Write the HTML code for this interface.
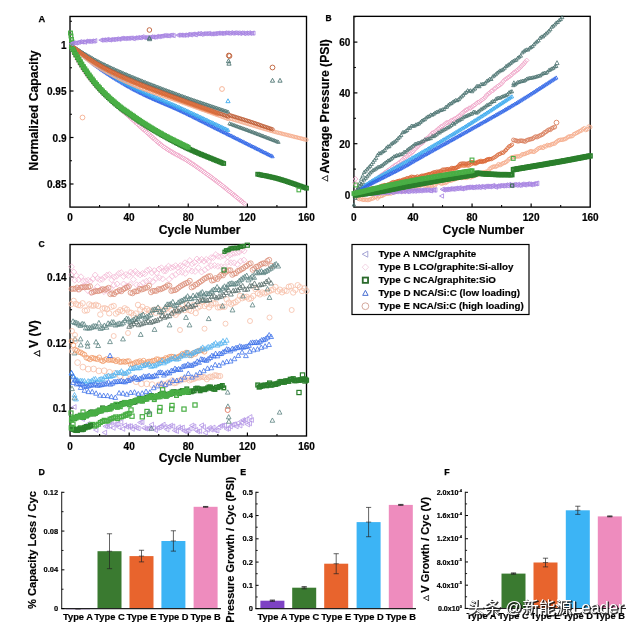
<!DOCTYPE html><html><head><meta charset="utf-8"><title>Figure</title><style>html,body{margin:0;padding:0;background:#fff}body{width:640px;height:632px;overflow:hidden}</style></head><body><svg width="640" height="632" viewBox="0 0 640 632" font-family="'Liberation Sans','Noto Sans CJK SC',sans-serif" style="display:block;will-change:transform"><defs><marker id="m0" markerUnits="userSpaceOnUse" markerWidth="7.1499999999999995" markerHeight="7.1499999999999995" refX="3.5749999999999997" refY="3.5749999999999997" fill="none" stroke="#f0a6c9" stroke-width="0.85"><path d="M3.5749999999999997,1.10 L6.05,3.5749999999999997 L3.5749999999999997,6.05 L1.10,3.5749999999999997Z"/></marker><marker id="m1" markerUnits="userSpaceOnUse" markerWidth="6.25" markerHeight="6.25" refX="3.125" refY="3.125" fill="none" stroke="#2d63e6" stroke-width="0.85"><path d="M3.125,1.34 L4.83,4.49 L1.43,4.49Z"/></marker><marker id="m2" markerUnits="userSpaceOnUse" markerWidth="6.25" markerHeight="6.25" refX="3.125" refY="3.125" fill="none" stroke="#3aa9ee" stroke-width="0.85"><path d="M3.125,1.34 L4.83,4.49 L1.43,4.49Z"/></marker><marker id="m3" markerUnits="userSpaceOnUse" markerWidth="6.25" markerHeight="6.25" refX="3.125" refY="3.125" fill="none" stroke="#f5ae8e" stroke-width="0.85"><circle cx="3.125" cy="3.125" r="1.7"/></marker><marker id="m4" markerUnits="userSpaceOnUse" markerWidth="6.25" markerHeight="6.25" refX="3.125" refY="3.125" fill="none" stroke="#4e7573" stroke-width="0.85"><path d="M3.125,1.34 L4.83,4.49 L1.43,4.49Z"/></marker><marker id="m5" markerUnits="userSpaceOnUse" markerWidth="6.25" markerHeight="6.25" refX="3.125" refY="3.125" fill="none" stroke="#bd5d36" stroke-width="0.85"><circle cx="3.125" cy="3.125" r="1.7"/></marker><marker id="m6" markerUnits="userSpaceOnUse" markerWidth="6.25" markerHeight="6.25" refX="3.125" refY="3.125" fill="none" stroke="#de6f3c" stroke-width="0.85"><circle cx="3.125" cy="3.125" r="1.7"/></marker><marker id="m7" markerUnits="userSpaceOnUse" markerWidth="6.8" markerHeight="6.8" refX="3.4" refY="3.4" fill="none" stroke="#2b7f2c" stroke-width="1.5"><rect x="1.75" y="1.75" width="3.3" height="3.3"/></marker><marker id="m8" markerUnits="userSpaceOnUse" markerWidth="6.8" markerHeight="6.8" refX="3.4" refY="3.4" fill="none" stroke="#49ae45" stroke-width="1.5"><rect x="1.75" y="1.75" width="3.3" height="3.3"/></marker><marker id="m9" markerUnits="userSpaceOnUse" markerWidth="6.9" markerHeight="6.9" refX="3.45" refY="3.45" fill="none" stroke="#49ae45" stroke-width="1.3"><rect x="1.65" y="1.65" width="3.6" height="3.6"/></marker><marker id="m10" markerUnits="userSpaceOnUse" markerWidth="7.05" markerHeight="7.05" refX="3.525" refY="3.525" fill="none" stroke="#a783e2" stroke-width="0.85"><path d="M1.32,3.525 L5.21,1.42 L5.21,5.62Z"/></marker><marker id="m11" markerUnits="userSpaceOnUse" markerWidth="7.5" markerHeight="7.5" refX="3.75" refY="3.75" fill="none" stroke="#bd5d36" stroke-width="0.9"><circle cx="3.75" cy="3.75" r="2.3"/></marker><marker id="m12" markerUnits="userSpaceOnUse" markerWidth="7.1000000000000005" markerHeight="7.1000000000000005" refX="3.5500000000000003" refY="3.5500000000000003" fill="none" stroke="#4e7573" stroke-width="0.9"><path d="M3.5500000000000003,1.35 L5.65,5.23 L1.45,5.23Z"/></marker><marker id="m13" markerUnits="userSpaceOnUse" markerWidth="7.7" markerHeight="7.7" refX="3.85" refY="3.85" fill="none" stroke="#bd5d36" stroke-width="0.9"><circle cx="3.85" cy="3.85" r="2.4"/></marker><marker id="m14" markerUnits="userSpaceOnUse" markerWidth="7.7" markerHeight="7.7" refX="3.85" refY="3.85" fill="none" stroke="#f5ae8e" stroke-width="0.9"><circle cx="3.85" cy="3.85" r="2.4"/></marker><marker id="m15" markerUnits="userSpaceOnUse" markerWidth="7.1000000000000005" markerHeight="7.1000000000000005" refX="3.5500000000000003" refY="3.5500000000000003" fill="none" stroke="#3aa9ee" stroke-width="0.9"><path d="M3.5500000000000003,1.35 L5.65,5.23 L1.45,5.23Z"/></marker><marker id="m16" markerUnits="userSpaceOnUse" markerWidth="6.7" markerHeight="6.7" refX="3.35" refY="3.35" fill="none" stroke="#49ae45" stroke-width="1.1"><rect x="1.55" y="1.55" width="3.6" height="3.6"/></marker><marker id="m17" markerUnits="userSpaceOnUse" markerWidth="6.85" markerHeight="6.85" refX="3.425" refY="3.425" fill="none" stroke="#f0a6c9" stroke-width="0.85"><path d="M3.425,1.12 L5.72,3.425 L3.425,5.72 L1.12,3.425Z"/></marker><marker id="m18" markerUnits="userSpaceOnUse" markerWidth="6.45" markerHeight="6.45" refX="3.225" refY="3.225" fill="none" stroke="#f5ae8e" stroke-width="0.85"><circle cx="3.225" cy="3.225" r="1.8"/></marker><marker id="m19" markerUnits="userSpaceOnUse" markerWidth="7.449999999999999" markerHeight="7.449999999999999" refX="3.7249999999999996" refY="3.7249999999999996" fill="none" stroke="#a783e2" stroke-width="0.85"><path d="M1.31,3.7249999999999996 L5.56,1.42 L5.56,6.02Z"/></marker><marker id="m20" markerUnits="userSpaceOnUse" markerWidth="6.25" markerHeight="6.25" refX="3.125" refY="3.125" fill="none" stroke="#ee7e45" stroke-width="0.85"><circle cx="3.125" cy="3.125" r="1.7"/></marker><marker id="m21" markerUnits="userSpaceOnUse" markerWidth="6.25" markerHeight="6.25" refX="3.125" refY="3.125" fill="none" stroke="#d96a3c" stroke-width="0.85"><circle cx="3.125" cy="3.125" r="1.7"/></marker><marker id="m22" markerUnits="userSpaceOnUse" markerWidth="6.6499999999999995" markerHeight="6.6499999999999995" refX="3.3249999999999997" refY="3.3249999999999997" fill="none" stroke="#d9805f" stroke-width="0.85"><circle cx="3.3249999999999997" cy="3.3249999999999997" r="1.9"/></marker><marker id="m23" markerUnits="userSpaceOnUse" markerWidth="7.7" markerHeight="7.7" refX="3.85" refY="3.85" fill="none" stroke="#d9805f" stroke-width="0.9"><circle cx="3.85" cy="3.85" r="2.4"/></marker><marker id="m24" markerUnits="userSpaceOnUse" markerWidth="7.0" markerHeight="7.0" refX="3.5" refY="3.5" fill="none" stroke="#4e7573" stroke-width="0.8"><path d="M3.5,1.29 L5.60,5.18 L1.40,5.18Z"/></marker><marker id="m25" markerUnits="userSpaceOnUse" markerWidth="7.300000000000001" markerHeight="7.300000000000001" refX="3.6500000000000004" refY="3.6500000000000004" fill="none" stroke="#2b7f2c" stroke-width="1.6"><rect x="1.80" y="1.80" width="3.7" height="3.7"/></marker><marker id="m26" markerUnits="userSpaceOnUse" markerWidth="6.9" markerHeight="6.9" refX="3.45" refY="3.45" fill="none" stroke="#49ae45" stroke-width="1.1"><rect x="1.55" y="1.55" width="3.8" height="3.8"/></marker><marker id="m27" markerUnits="userSpaceOnUse" markerWidth="6.300000000000001" markerHeight="6.300000000000001" refX="3.1500000000000004" refY="3.1500000000000004" fill="none" stroke="#3f6f55" stroke-width="1.1"><rect x="1.55" y="1.55" width="3.2" height="3.2"/></marker><marker id="m28" markerUnits="userSpaceOnUse" markerWidth="7.2" markerHeight="7.2" refX="3.6" refY="3.6" fill="none" stroke="#a783e2" stroke-width="0.8"><path d="M1.29,3.6 L5.36,1.40 L5.36,5.80Z"/></marker><marker id="m29" markerUnits="userSpaceOnUse" markerWidth="7.0" markerHeight="7.0" refX="3.5" refY="3.5" fill="none" stroke="#f0a6c9" stroke-width="0.8"><path d="M3.5,1.08 L5.92,3.5 L3.5,5.92 L1.08,3.5Z"/></marker><marker id="m30" markerUnits="userSpaceOnUse" markerWidth="8.0" markerHeight="8.0" refX="4.0" refY="4.0" fill="none" stroke="#f4bad6" stroke-width="0.8"><path d="M4.0,1.01 L6.99,4.0 L4.0,6.99 L1.01,4.0Z"/></marker><marker id="m31" markerUnits="userSpaceOnUse" markerWidth="7.8" markerHeight="7.8" refX="3.9" refY="3.9" fill="none" stroke="#dc8f7a" stroke-width="0.8"><circle cx="3.9" cy="3.9" r="2.5"/></marker><marker id="m32" markerUnits="userSpaceOnUse" markerWidth="8.2" markerHeight="8.2" refX="4.1" refY="4.1" fill="none" stroke="#f6bfa8" stroke-width="0.8"><circle cx="4.1" cy="4.1" r="2.7"/></marker><marker id="m33" markerUnits="userSpaceOnUse" markerWidth="7.8" markerHeight="7.8" refX="3.9" refY="3.9" fill="none" stroke="#5a8280" stroke-width="0.8"><path d="M3.9,1.27 L6.40,5.90 L1.40,5.90Z"/></marker><marker id="m34" markerUnits="userSpaceOnUse" markerWidth="7.6" markerHeight="7.6" refX="3.8" refY="3.8" fill="none" stroke="#566b68" stroke-width="0.8"><path d="M3.8,1.28 L6.20,5.72 L1.40,5.72Z"/></marker><marker id="m35" markerUnits="userSpaceOnUse" markerWidth="7.6" markerHeight="7.6" refX="3.8" refY="3.8" fill="none" stroke="#5a8280" stroke-width="0.8"><path d="M3.8,1.28 L6.20,5.72 L1.40,5.72Z"/></marker><marker id="m36" markerUnits="userSpaceOnUse" markerWidth="7.8" markerHeight="7.8" refX="3.9" refY="3.9" fill="none" stroke="#f6bfa8" stroke-width="0.8"><circle cx="3.9" cy="3.9" r="2.5"/></marker><marker id="m37" markerUnits="userSpaceOnUse" markerWidth="7.55" markerHeight="7.55" refX="3.775" refY="3.775" fill="none" stroke="#f09866" stroke-width="0.75"><circle cx="3.775" cy="3.775" r="2.4"/></marker><marker id="m38" markerUnits="userSpaceOnUse" markerWidth="8.6" markerHeight="8.6" refX="4.3" refY="4.3" fill="none" stroke="#f6bfa8" stroke-width="0.8"><circle cx="4.3" cy="4.3" r="2.9"/></marker><marker id="m39" markerUnits="userSpaceOnUse" markerWidth="8.0" markerHeight="8.0" refX="4.0" refY="4.0" fill="none" stroke="#f6bfa8" stroke-width="0.8"><circle cx="4.0" cy="4.0" r="2.6"/></marker><marker id="m40" markerUnits="userSpaceOnUse" markerWidth="7.6" markerHeight="7.6" refX="3.8" refY="3.8" fill="none" stroke="#55b4f0" stroke-width="0.8"><path d="M3.8,1.28 L6.20,5.72 L1.40,5.72Z"/></marker><marker id="m41" markerUnits="userSpaceOnUse" markerWidth="7.6" markerHeight="7.6" refX="3.8" refY="3.8" fill="none" stroke="#3f72ea" stroke-width="0.8"><path d="M3.8,1.28 L6.20,5.72 L1.40,5.72Z"/></marker><marker id="m42" markerUnits="userSpaceOnUse" markerWidth="7.7" markerHeight="7.7" refX="3.85" refY="3.85" fill="none" stroke="#3f72ea" stroke-width="0.9"><path d="M3.85,1.33 L6.25,5.77 L1.45,5.77Z"/></marker><marker id="m43" markerUnits="userSpaceOnUse" markerWidth="7.6" markerHeight="7.6" refX="3.8" refY="3.8" fill="none" stroke="#b496e6" stroke-width="0.8"><path d="M1.28,3.8 L5.72,1.40 L5.72,6.20Z"/></marker><marker id="m44" markerUnits="userSpaceOnUse" markerWidth="7.0" markerHeight="7.0" refX="3.5" refY="3.5" fill="none" stroke="#2b7f2c" stroke-width="1.4"><rect x="1.70" y="1.70" width="3.6" height="3.6"/></marker><marker id="m45" markerUnits="userSpaceOnUse" markerWidth="7.199999999999999" markerHeight="7.199999999999999" refX="3.5999999999999996" refY="3.5999999999999996" fill="none" stroke="#2b7f2c" stroke-width="1.4"><rect x="1.70" y="1.70" width="3.8" height="3.8"/></marker><marker id="m46" markerUnits="userSpaceOnUse" markerWidth="7.0" markerHeight="7.0" refX="3.5" refY="3.5" fill="none" stroke="#49ae45" stroke-width="1.4"><rect x="1.70" y="1.70" width="3.6" height="3.6"/></marker><marker id="m47" markerUnits="userSpaceOnUse" markerWidth="7.1" markerHeight="7.1" refX="3.55" refY="3.55" fill="none" stroke="#49ae45" stroke-width="1.3"><rect x="1.65" y="1.65" width="3.8" height="3.8"/></marker><marker id="m48" markerUnits="userSpaceOnUse" markerWidth="7.1" markerHeight="7.1" refX="3.55" refY="3.55" fill="none" stroke="#2b7f2c" stroke-width="1.3"><rect x="1.65" y="1.65" width="3.8" height="3.8"/></marker><marker id="m49" markerUnits="userSpaceOnUse" markerWidth="7.4" markerHeight="7.4" refX="3.7" refY="3.7" fill="none" stroke="#49ae45" stroke-width="1.2"><rect x="1.60" y="1.60" width="4.2" height="4.2"/></marker><marker id="m50" markerUnits="userSpaceOnUse" markerWidth="7.4" markerHeight="7.4" refX="3.7" refY="3.7" fill="none" stroke="#2b7f2c" stroke-width="1.2"><rect x="1.60" y="1.60" width="4.2" height="4.2"/></marker><marker id="m51" markerUnits="userSpaceOnUse" markerWidth="6.3" markerHeight="6.3" refX="3.15" refY="3.15" fill="none" stroke="#2b7f2c" stroke-width="1.3"><rect x="1.65" y="1.65" width="3.0" height="3.0"/></marker><marker id="m52" markerUnits="userSpaceOnUse" markerWidth="7.2" markerHeight="7.2" refX="3.6" refY="3.6" fill="none" stroke="#2b7f2c" stroke-width="1.2"><rect x="1.60" y="1.60" width="4.0" height="4.0"/></marker><marker id="m53" markerUnits="userSpaceOnUse" markerWidth="7.2" markerHeight="7.2" refX="3.6" refY="3.6" fill="none" stroke="#49ae45" stroke-width="1.2"><rect x="1.60" y="1.60" width="4.0" height="4.0"/></marker><marker id="m54" markerUnits="userSpaceOnUse" markerWidth="7.3999999999999995" markerHeight="7.3999999999999995" refX="3.6999999999999997" refY="3.6999999999999997" fill="none" stroke="#5a8280" stroke-width="0.8"><path d="M3.6999999999999997,1.28 L6.00,5.54 L1.40,5.54Z"/></marker><marker id="m55" markerUnits="userSpaceOnUse" markerWidth="7.8" markerHeight="7.8" refX="3.9" refY="3.9" fill="none" stroke="#e06a50" stroke-width="0.8"><circle cx="3.9" cy="3.9" r="2.5"/></marker><marker id="m56" markerUnits="userSpaceOnUse" markerWidth="8.9" markerHeight="8.9" refX="4.45" refY="4.45" fill="none" stroke="#9c9cd0" stroke-width="0.9"><path d="M1.30,4.45 L6.85,1.45 L6.85,7.45Z"/></marker><marker id="m57" markerUnits="userSpaceOnUse" markerWidth="8.5" markerHeight="8.5" refX="4.25" refY="4.25" fill="none" stroke="#f1cfe0" stroke-width="0.9"><path d="M4.25,1.03 L7.47,4.25 L4.25,7.47 L1.03,4.25Z"/></marker><marker id="m58" markerUnits="userSpaceOnUse" markerWidth="9.1" markerHeight="9.1" refX="4.55" refY="4.55" fill="none" stroke="#2a6a2b" stroke-width="1.8"><rect x="1.90" y="1.90" width="5.3" height="5.3"/></marker><marker id="m59" markerUnits="userSpaceOnUse" markerWidth="8.4" markerHeight="8.4" refX="4.2" refY="4.2" fill="none" stroke="#4a70d2" stroke-width="1.0"><path d="M4.2,1.36 L6.90,6.36 L1.50,6.36Z"/></marker><marker id="m60" markerUnits="userSpaceOnUse" markerWidth="9.7" markerHeight="9.7" refX="4.85" refY="4.85" fill="none" stroke="#cf9f92" stroke-width="0.9"><circle cx="4.85" cy="4.85" r="3.4"/></marker></defs><rect width="640" height="632" fill="#fff"/><g><rect x="70.0" y="16.45" width="236.5" height="190.65" fill="none" stroke="#000" stroke-width="1.35"/>
<line x1="129.12" y1="207.10" x2="129.12" y2="203.60" stroke="#000" stroke-width="1.2"/>
<line x1="188.24" y1="207.10" x2="188.24" y2="203.60" stroke="#000" stroke-width="1.2"/>
<line x1="247.36" y1="207.10" x2="247.36" y2="203.60" stroke="#000" stroke-width="1.2"/>
<line x1="99.56" y1="207.10" x2="99.56" y2="205.10" stroke="#000" stroke-width="1.1"/>
<line x1="158.68" y1="207.10" x2="158.68" y2="205.10" stroke="#000" stroke-width="1.1"/>
<line x1="217.80" y1="207.10" x2="217.80" y2="205.10" stroke="#000" stroke-width="1.1"/>
<line x1="276.92" y1="207.10" x2="276.92" y2="205.10" stroke="#000" stroke-width="1.1"/>
<line x1="70.00" y1="44.50" x2="73.50" y2="44.50" stroke="#000" stroke-width="1.2"/>
<line x1="70.00" y1="91.00" x2="73.50" y2="91.00" stroke="#000" stroke-width="1.2"/>
<line x1="70.00" y1="137.50" x2="73.50" y2="137.50" stroke="#000" stroke-width="1.2"/>
<line x1="70.00" y1="184.00" x2="73.50" y2="184.00" stroke="#000" stroke-width="1.2"/>
<line x1="70.00" y1="21.25" x2="72.00" y2="21.25" stroke="#000" stroke-width="1.1"/>
<line x1="70.00" y1="67.75" x2="72.00" y2="67.75" stroke="#000" stroke-width="1.1"/>
<line x1="70.00" y1="114.25" x2="72.00" y2="114.25" stroke="#000" stroke-width="1.1"/>
<line x1="70.00" y1="160.75" x2="72.00" y2="160.75" stroke="#000" stroke-width="1.1"/>
<text x="70.0" y="221.4" font-size="10" font-weight="bold" text-anchor="middle" fill="#000" stroke="#000" stroke-width="0.18">0</text>
<text x="129.12" y="221.4" font-size="10" font-weight="bold" text-anchor="middle" fill="#000" stroke="#000" stroke-width="0.18">40</text>
<text x="188.24" y="221.4" font-size="10" font-weight="bold" text-anchor="middle" fill="#000" stroke="#000" stroke-width="0.18">80</text>
<text x="247.35999999999999" y="221.4" font-size="10" font-weight="bold" text-anchor="middle" fill="#000" stroke="#000" stroke-width="0.18">120</text>
<text x="306.48" y="221.4" font-size="10" font-weight="bold" text-anchor="middle" fill="#000" stroke="#000" stroke-width="0.18">160</text>
<text x="66.5" y="48.7" font-size="10" font-weight="bold" text-anchor="end" fill="#000" stroke="#000" stroke-width="0.18">1</text>
<text x="66.5" y="95.20000000000005" font-size="10" font-weight="bold" text-anchor="end" fill="#000" stroke="#000" stroke-width="0.18">0.95</text>
<text x="66.5" y="141.7" font-size="10" font-weight="bold" text-anchor="end" fill="#000" stroke="#000" stroke-width="0.18">0.9</text>
<text x="66.5" y="188.20000000000002" font-size="10" font-weight="bold" text-anchor="end" fill="#000" stroke="#000" stroke-width="0.18">0.85</text>
<text x="199.65" y="233.5" font-size="12.15" font-weight="bold" text-anchor="middle" fill="#000" stroke="#000" stroke-width="0.18">Cycle Number</text>
<text x="38.2" y="170.4" font-size="12.2" font-weight="bold" text-anchor="start" fill="#000" transform="rotate(-90 38.2 170.4)" stroke="#000" stroke-width="0.18">Normalized Capacity</text>
<text x="38.4" y="21.6" font-size="9.3" font-weight="bold" text-anchor="start" fill="#000" stroke="#000" stroke-width="0.25">A</text>
<polyline points="71.5,47.5 73.0,50.6 74.4,53.6 75.9,56.6 77.4,59.4 78.9,62.0 80.3,64.6 81.8,67.0 83.3,69.3 84.8,71.5 86.3,73.5 87.7,75.6 89.2,77.5 90.7,79.4 92.2,81.2 93.6,83.0 95.1,84.7 96.6,86.4 98.1,88.0 99.6,89.6 101.0,91.2 102.5,92.6 104.0,94.1 105.5,95.5 107.0,96.8 108.4,98.1 109.9,99.4 111.4,100.7 112.9,102.0 114.3,103.3 115.8,104.5 117.3,105.8 118.8,107.1 120.3,108.5 121.7,109.8 123.2,111.2 124.7,112.5 126.2,113.8 127.6,115.2 129.1,116.5 130.6,117.8 132.1,119.2 133.6,120.5 135.0,121.8 136.5,123.2 138.0,124.5 139.5,125.8 140.9,127.1 142.4,128.5 143.9,129.8 145.4,131.1 146.9,132.4 148.3,133.7 149.8,135.0 151.3,136.3 152.8,137.7 154.2,139.0 155.7,140.3 157.2,141.6 158.7,142.9 160.2,144.1 161.6,145.2 163.1,146.4 164.6,147.4 166.1,148.4 167.5,149.4 169.0,150.3 170.5,151.2 172.0,152.0 173.5,152.9 174.9,153.7 176.4,154.5 177.9,155.3 179.4,156.1 180.8,156.9 182.3,157.7 183.8,158.5 185.3,159.4 186.8,160.3 188.2,161.2 189.7,162.2 191.2,163.2 192.7,164.1 194.2,165.1 195.6,166.1 197.1,167.1 198.6,168.2 200.1,169.2 201.5,170.2 203.0,171.3 204.5,172.3 206.0,173.4 207.5,174.5 208.9,175.5 210.4,176.6 211.9,177.7 213.4,178.8 214.8,179.9 216.3,181.0 217.8,182.1 219.3,183.3 220.8,184.4 222.2,185.6 223.7,186.7 225.2,187.9 226.7,189.1 228.1,190.3 229.6,191.5 231.1,192.7 232.6,193.9 234.1,195.1 235.5,196.3 237.0,197.5 238.5,198.7 240.0,199.9 241.4,201.1 242.9,202.3 244.4,203.5" fill="none" stroke="none" marker-start="url(#m0)" marker-mid="url(#m0)" marker-end="url(#m0)"/>
<polyline points="71.5,45.7 73.0,46.9 74.4,48.1 75.9,49.4 77.4,50.6 78.9,51.8 80.3,53.0 81.8,54.2 83.3,55.4 84.8,56.6 86.3,57.8 87.7,59.0 89.2,60.2 90.7,61.4 92.2,62.6 93.6,63.8 95.1,64.9 96.6,66.0 98.1,67.1 99.6,68.2 101.0,69.3 102.5,70.3 104.0,71.3 105.5,72.3 107.0,73.3 108.4,74.2 109.9,75.2 111.4,76.2 112.9,77.1 114.3,78.0 115.8,78.9 117.3,79.9 118.8,80.7 120.3,81.6 121.7,82.5 123.2,83.4 124.7,84.3 126.2,85.1 127.6,86.0 129.1,86.8 130.6,87.6 132.1,88.5 133.6,89.3 135.0,90.0 136.5,90.8 138.0,91.5 139.5,92.3 140.9,93.0 142.4,93.7 143.9,94.5 145.4,95.2 146.9,95.9 148.3,96.6 149.8,97.2 151.3,97.9 152.8,98.6 154.2,99.2 155.7,99.9 157.2,100.5 158.7,101.1 160.2,101.8 161.6,102.4 163.1,103.0 164.6,103.7 166.1,104.3 167.5,104.9 169.0,105.5 170.5,106.2 172.0,106.8 173.5,107.5 174.9,108.1 176.4,108.8 177.9,109.4 179.4,110.1 180.8,110.8 182.3,111.5 183.8,112.2 185.3,112.9 186.8,113.6 188.2,114.3 189.7,115.1 191.2,115.8 192.7,116.5 194.2,117.3 195.6,118.0 197.1,118.7 198.6,119.5 200.1,120.2 201.5,121.0 203.0,121.7 204.5,122.4 206.0,123.2 207.5,123.9 208.9,124.7 210.4,125.4 211.9,126.2 213.4,126.9 214.8,127.7 216.3,128.4 217.8,129.1 219.3,129.9 220.8,130.6 222.2,131.3 223.7,132.1 225.2,132.8 226.7,133.5 228.1,134.3 229.6,135.0 231.1,135.7 232.6,136.5 234.1,137.2 235.5,138.0 237.0,138.7 238.5,139.4 240.0,140.2 241.4,140.9 242.9,141.6 244.4,142.4 245.9,143.1 247.4,143.9 248.8,144.6 250.3,145.3 251.8,146.1 253.3,146.8 254.8,147.5 256.2,148.3 257.7,149.0 259.2,149.7 260.7,150.5 262.1,151.2 263.6,152.0 265.1,152.7 266.6,153.4 268.1,154.2 269.5,154.9 271.0,155.6 272.5,156.4" fill="none" stroke="none" marker-start="url(#m1)" marker-mid="url(#m1)" marker-end="url(#m1)"/>
<polyline points="71.5,45.6 73.0,46.7 74.4,47.8 75.9,49.0 77.4,50.1 78.9,51.2 80.3,52.3 81.8,53.4 83.3,54.5 84.8,55.7 86.3,56.8 87.7,57.9 89.2,59.1 90.7,60.2 92.2,61.4 93.6,62.5 95.1,63.6 96.6,64.7 98.1,65.8 99.6,66.8 101.0,67.8 102.5,68.8 104.0,69.8 105.5,70.8 107.0,71.8 108.4,72.7 109.9,73.7 111.4,74.6 112.9,75.5 114.3,76.5 115.8,77.4 117.3,78.3 118.8,79.1 120.3,80.0 121.7,80.9 123.2,81.7 124.7,82.5 126.2,83.4 127.6,84.2 129.1,85.0 130.6,85.7 132.1,86.5 133.6,87.2 135.0,88.0 136.5,88.7 138.0,89.4 139.5,90.1 140.9,90.8 142.4,91.5 143.9,92.1 145.4,92.8 146.9,93.5 148.3,94.1 149.8,94.7 151.3,95.4 152.8,96.0 154.2,96.6 155.7,97.3 157.2,97.9 158.7,98.5 160.2,99.1 161.6,99.7 163.1,100.3 164.6,101.0 166.1,101.6 167.5,102.2 169.0,102.8 170.5,103.5 172.0,104.1 173.5,104.7 174.9,105.4 176.4,106.0 177.9,106.7 179.4,107.3 180.8,108.0 182.3,108.7 183.8,109.4 185.3,110.0 186.8,110.7 188.2,111.4 189.7,112.1 191.2,112.8 192.7,113.5 194.2,114.1 195.6,114.8 197.1,115.5 198.6,116.2 200.1,116.9 201.5,117.6 203.0,118.3 204.5,119.0 206.0,119.7 207.5,120.4 208.9,121.1 210.4,121.8 211.9,122.4 213.4,123.1 214.8,123.8 216.3,124.5 217.8,125.2 219.3,125.9 220.8,126.6 222.2,127.3 223.7,128.0 225.2,128.7 226.7,129.4 228.1,130.1" fill="none" stroke="none" marker-start="url(#m2)" marker-mid="url(#m2)" marker-end="url(#m2)"/>
<polyline points="71.5,45.8 73.0,47.1 74.4,48.5 75.9,49.8 77.4,51.2 78.9,52.5 80.3,53.8 81.8,55.1 83.3,56.3 84.8,57.5 86.3,58.7 87.7,59.8 89.2,60.9 90.7,61.9 92.2,63.0 93.6,64.0 95.1,65.0 96.6,65.9 98.1,66.8 99.6,67.8 101.0,68.6 102.5,69.5 104.0,70.4 105.5,71.2 107.0,72.1 108.4,72.9 109.9,73.7 111.4,74.5 112.9,75.3 114.3,76.0 115.8,76.8 117.3,77.5 118.8,78.3 120.3,79.0 121.7,79.7 123.2,80.4 124.7,81.1 126.2,81.8 127.6,82.4 129.1,83.1 130.6,83.7 132.1,84.4 133.6,85.0 135.0,85.6 136.5,86.2 138.0,86.8 139.5,87.4 140.9,87.9 142.4,88.5 143.9,89.1 145.4,89.6 146.9,90.1 148.3,90.7 149.8,91.2 151.3,91.7 152.8,92.2 154.2,92.8 155.7,93.3 157.2,93.8 158.7,94.3 160.2,94.8 161.6,95.3 163.1,95.8 164.6,96.3 166.1,96.8 167.5,97.3 169.0,97.8 170.5,98.3 172.0,98.8 173.5,99.3 174.9,99.8 176.4,100.3 177.9,100.8 179.4,101.4 180.8,101.9 182.3,102.4 183.8,103.0 185.3,103.5 186.8,104.0 188.2,104.6 189.7,105.1 191.2,105.6 192.7,106.2 194.2,106.7 195.6,107.2 197.1,107.8 198.6,108.3 200.1,108.8 201.5,109.4 203.0,109.9 204.5,110.4 206.0,110.9 207.5,111.5 208.9,112.0 210.4,112.5 211.9,113.1 213.4,113.6 214.8,114.1 216.3,114.7 217.8,115.2 219.3,115.7 220.8,116.2 222.2,116.8 223.7,117.3 225.2,117.8 226.7,118.4 228.1,118.9 229.6,118.4 231.1,118.9 232.6,119.3 234.1,119.8 235.5,120.2 237.0,120.7 238.5,121.1 240.0,121.5 241.4,122.0 242.9,122.4 244.4,122.9 245.9,123.3 247.4,123.8 248.8,124.2 250.3,124.7 251.8,125.1 253.3,125.6 254.8,126.0 256.2,126.5 257.7,126.9 259.2,127.4 260.7,127.8 262.1,128.2 263.6,128.7 265.1,129.1 266.6,129.5 268.1,129.9 269.5,130.3 271.0,130.8 272.5,131.2 274.0,131.6 275.4,132.0 276.9,132.4 278.4,132.8 279.9,133.1 281.4,133.5 282.8,133.9 284.3,134.3 285.8,134.6 287.3,135.0 288.7,135.4 290.2,135.7 291.7,136.1 293.2,136.5 294.7,136.9 296.1,137.2 297.6,137.6 299.1,138.0 300.6,138.3 302.0,138.7 303.5,139.1 305.0,139.5 306.5,139.8" fill="none" stroke="none" marker-start="url(#m3)" marker-mid="url(#m3)" marker-end="url(#m3)"/>
<polyline points="71.5,45.4 73.0,46.4 74.4,47.3 75.9,48.3 77.4,49.2 78.9,50.1 80.3,51.1 81.8,52.0 83.3,52.9 84.8,53.8 86.3,54.7 87.7,55.6 89.2,56.4 90.7,57.3 92.2,58.1 93.6,59.0 95.1,59.8 96.6,60.6 98.1,61.4 99.6,62.2 101.0,62.9 102.5,63.7 104.0,64.4 105.5,65.1 107.0,65.8 108.4,66.5 109.9,67.2 111.4,67.9 112.9,68.6 114.3,69.2 115.8,69.9 117.3,70.6 118.8,71.2 120.3,71.9 121.7,72.5 123.2,73.1 124.7,73.8 126.2,74.4 127.6,75.0 129.1,75.7 130.6,76.3 132.1,76.9 133.6,77.5 135.0,78.1 136.5,78.7 138.0,79.3 139.5,79.9 140.9,80.5 142.4,81.1 143.9,81.7 145.4,82.3 146.9,82.9 148.3,83.5 149.8,84.0 151.3,84.6 152.8,85.2 154.2,85.7 155.7,86.3 157.2,86.9 158.7,87.4 160.2,88.0 161.6,88.6 163.1,89.1 164.6,89.7 166.1,90.2 167.5,90.8 169.0,91.3 170.5,91.9 172.0,92.4 173.5,93.0 174.9,93.5 176.4,94.1 177.9,94.6 179.4,95.1 180.8,95.7 182.3,96.2 183.8,96.7 185.3,97.3 186.8,97.8 188.2,98.3 189.7,98.8 191.2,99.4 192.7,99.9 194.2,100.4 195.6,100.9 197.1,101.4 198.6,101.9 200.1,102.4 201.5,102.9 203.0,103.4 204.5,103.9 206.0,104.4 207.5,104.9 208.9,105.4 210.4,105.9 211.9,106.4 213.4,106.9 214.8,107.4 216.3,107.9 217.8,108.4 219.3,108.9 220.8,109.4 222.2,109.9 223.7,110.4 225.2,110.9 226.7,111.4 228.1,111.9 229.6,123.5 231.1,124.1 232.6,124.6 234.1,125.2 235.5,125.7 237.0,126.3 238.5,126.8 240.0,127.4 241.4,127.9 242.9,128.4 244.4,129.0 245.9,129.5 247.4,130.1 248.8,130.6 250.3,131.2 251.8,131.7 253.3,132.3 254.8,132.8 256.2,133.4 257.7,134.0 259.2,134.5 260.7,135.1 262.1,135.7 263.6,136.2 265.1,136.8 266.6,137.4 268.1,138.0 269.5,138.5 271.0,139.1 272.5,139.7 274.0,140.2 275.4,140.8 276.9,141.4 278.4,142.0" fill="none" stroke="none" marker-start="url(#m4)" marker-mid="url(#m4)" marker-end="url(#m4)"/>
<polyline points="71.5,45.6 73.0,46.8 74.4,47.9 75.9,49.1 77.4,50.2 78.9,51.3 80.3,52.4 81.8,53.5 83.3,54.6 84.8,55.7 86.3,56.7 87.7,57.7 89.2,58.7 90.7,59.6 92.2,60.6 93.6,61.5 95.1,62.4 96.6,63.3 98.1,64.1 99.6,65.0 101.0,65.8 102.5,66.6 104.0,67.4 105.5,68.2 107.0,68.9 108.4,69.7 109.9,70.4 111.4,71.2 112.9,71.9 114.3,72.6 115.8,73.3 117.3,74.0 118.8,74.7 120.3,75.4 121.7,76.1 123.2,76.7 124.7,77.4 126.2,78.1 127.6,78.7 129.1,79.4 130.6,80.0 132.1,80.7 133.6,81.3 135.0,81.9 136.5,82.5 138.0,83.1 139.5,83.7 140.9,84.3 142.4,84.9 143.9,85.5 145.4,86.1 146.9,86.7 148.3,87.2 149.8,87.8 151.3,88.4 152.8,88.9 154.2,89.5 155.7,90.1 157.2,90.6 158.7,91.2 160.2,91.7 161.6,92.3 163.1,92.8 164.6,93.4 166.1,93.9 167.5,94.5 169.0,95.0 170.5,95.6 172.0,96.1 173.5,96.7 174.9,97.2 176.4,97.7 177.9,98.3 179.4,98.9 180.8,99.4 182.3,100.0 183.8,100.5 185.3,101.1 186.8,101.6 188.2,102.1 189.7,102.7 191.2,103.2 192.7,103.8 194.2,104.3 195.6,104.9 197.1,105.4 198.6,105.9 200.1,106.5 201.5,107.0 203.0,107.5 204.5,108.1 206.0,108.6 207.5,109.1 208.9,109.7 210.4,110.2 211.9,110.7 213.4,111.2 214.8,111.8 216.3,112.3 217.8,112.8 219.3,113.4 220.8,113.9 222.2,114.4 223.7,115.0 225.2,115.5 226.7,116.0 228.1,116.6 229.6,115.2 231.1,115.6 232.6,116.1 234.1,116.6 235.5,117.0 237.0,117.5 238.5,117.9 240.0,118.4 241.4,118.9 242.9,119.3 244.4,119.8 245.9,120.3 247.4,120.8 248.8,121.2 250.3,121.7 251.8,122.2 253.3,122.7 254.8,123.2 256.2,123.7 257.7,124.2 259.2,124.7 260.7,125.3 262.1,125.8 263.6,126.3 265.1,126.8 266.6,127.3 268.1,127.8 269.5,128.3 271.0,128.8 272.5,129.3" fill="none" stroke="none" marker-start="url(#m5)" marker-mid="url(#m5)" marker-end="url(#m5)"/>
<polyline points="71.5,45.7 73.0,46.9 74.4,48.0 75.9,49.2 77.4,50.4 78.9,51.6 80.3,52.8 81.8,53.9 83.3,55.0 84.8,56.1 86.3,57.2 87.7,58.2 89.2,59.3 90.7,60.3 92.2,61.3 93.6,62.2 95.1,63.2 96.6,64.1 98.1,65.0 99.6,65.9 101.0,66.7 102.5,67.6 104.0,68.4 105.5,69.2 107.0,70.0 108.4,70.8 109.9,71.5 111.4,72.3 112.9,73.0 114.3,73.7 115.8,74.5 117.3,75.2 118.8,75.9 120.3,76.6 121.7,77.3 123.2,77.9 124.7,78.6 126.2,79.3 127.6,79.9 129.1,80.6 130.6,81.2 132.1,81.9 133.6,82.5 135.0,83.1 136.5,83.7 138.0,84.4 139.5,85.0 140.9,85.6 142.4,86.2 143.9,86.7 145.4,87.3 146.9,87.9 148.3,88.5 149.8,89.0 151.3,89.6 152.8,90.2 154.2,90.7 155.7,91.3 157.2,91.8 158.7,92.4 160.2,92.9 161.6,93.5 163.1,94.0 164.6,94.5 166.1,95.1 167.5,95.6 169.0,96.2 170.5,96.7 172.0,97.2 173.5,97.8 174.9,98.3 176.4,98.9 177.9,99.4 179.4,100.0 180.8,100.5 182.3,101.1 183.8,101.6 185.3,102.2 186.8,102.7 188.2,103.2 189.7,103.8 191.2,104.3 192.7,104.8 194.2,105.4 195.6,105.9 197.1,106.4 198.6,106.9 200.1,107.5 201.5,108.0 203.0,108.5 204.5,109.0 206.0,109.6 207.5,110.1 208.9,110.6 210.4,111.1 211.9,111.7 213.4,112.2 214.8,112.7 216.3,113.3 217.8,113.8" fill="none" stroke="none" marker-start="url(#m6)" marker-mid="url(#m6)" marker-end="url(#m6)"/>
<polyline points="71.5,47.1 73.0,49.8 74.4,52.4 75.9,55.0 77.4,57.5 78.9,60.0 80.3,62.5 81.8,65.0 83.3,67.4 84.8,69.6 86.3,71.7 87.7,73.8 89.2,75.9 90.7,77.9 92.2,79.8 93.6,81.7 95.1,83.5 96.6,85.3 98.1,87.0 99.6,88.7 101.0,90.3 102.5,91.8 104.0,93.4 105.5,94.8 107.0,96.2 108.4,97.6 109.9,99.0 111.4,100.3 112.9,101.6 114.3,102.9 115.8,104.1 117.3,105.4 118.8,106.6 120.3,107.8 121.7,108.9 123.2,110.0 124.7,111.0 126.2,112.0 127.6,113.0 129.1,114.1 130.6,115.1 132.1,116.1 133.6,117.2 135.0,118.2 136.5,119.2 138.0,120.3 139.5,121.3 140.9,122.2 142.4,123.2 143.9,124.1 145.4,125.1 146.9,126.0 148.3,126.9 149.8,127.8 151.3,128.7 152.8,129.6 154.2,130.5 155.7,131.3 157.2,132.2 158.7,133.1 160.2,133.9 161.6,134.8 163.1,135.6 164.6,136.4 166.1,137.2 167.5,138.0 169.0,138.9 170.5,139.7 172.0,140.5 173.5,141.2 174.9,142.0 176.4,142.8 177.9,143.6 179.4,144.3 180.8,145.1 182.3,145.8 183.8,146.5 185.3,147.3 186.8,148.0 188.2,148.7 189.7,149.3 191.2,150.0 192.7,150.7 194.2,151.3 195.6,152.0 197.1,152.6 198.6,153.3 200.1,153.9 201.5,154.5 203.0,155.1 204.5,155.7 206.0,156.3 207.5,156.9 208.9,157.5 210.4,158.1 211.9,158.7 213.4,159.3 214.8,159.9 216.3,160.5 217.8,161.1 219.3,161.7 220.8,162.3 222.2,162.9 223.7,163.5" fill="none" stroke="none" marker-start="url(#m7)" marker-mid="url(#m7)" marker-end="url(#m7)"/>
<polyline points="257.7,174.2 259.2,174.6 260.7,174.9 262.1,175.2 263.6,175.5 265.1,175.7 266.6,176.0 268.1,176.3 269.5,176.7 271.0,177.0 272.5,177.3 274.0,177.7 275.4,178.0 276.9,178.4 278.4,178.8 279.9,179.3 281.4,179.7 282.8,180.2 284.3,180.6 285.8,181.1 287.3,181.6 288.7,182.1 290.2,182.6 291.7,183.1 293.2,183.6 294.7,184.1 296.1,184.6 297.6,185.2 299.1,185.7 300.6,186.2 302.0,186.7 303.5,187.2 305.0,187.7 306.5,188.2" fill="none" stroke="none" marker-start="url(#m7)" marker-mid="url(#m7)" marker-end="url(#m7)"/>
<polyline points="71.5,46.9 73.0,49.3 74.4,51.8 75.9,54.2 77.4,56.6 78.9,59.0 80.3,61.5 81.8,64.0 83.3,66.4 84.8,68.7 86.3,70.8 87.7,72.9 89.2,74.9 90.7,76.9 92.2,78.9 93.6,80.8 95.1,82.6 96.6,84.4 98.1,86.1 99.6,87.7 101.0,89.4 102.5,90.9 104.0,92.4 105.5,93.9 107.0,95.3 108.4,96.7 109.9,98.1 111.4,99.4 112.9,100.7 114.3,101.9 115.8,103.2 117.3,104.4 118.8,105.7 120.3,106.9 121.7,108.0 123.2,109.1 124.7,110.1 126.2,111.1 127.6,112.1 129.1,113.1 130.6,114.2 132.1,115.2 133.6,116.2 135.0,117.3 136.5,118.3 138.0,119.3 139.5,120.3 140.9,121.3 142.4,122.3 143.9,123.2 145.4,124.1 146.9,125.1 148.3,126.0 149.8,126.9 151.3,127.8 152.8,128.7 154.2,129.6 155.7,130.4 157.2,131.3 158.7,132.2 160.2,133.0 161.6,133.8 163.1,134.7 164.6,135.5 166.1,136.3 167.5,137.0 169.0,137.8 170.5,138.6 172.0,139.3 173.5,140.0 174.9,140.8 176.4,141.5 177.9,142.2 179.4,142.9 180.8,143.6 182.3,144.4 183.8,145.1 185.3,145.8 186.8,146.5 188.2,147.3" fill="none" stroke="none" marker-start="url(#m8)" marker-mid="url(#m8)" marker-end="url(#m8)"/>
<polyline points="70.5,33.0 71.0,36.0 71.5,39.5 72.0,42.0" fill="none" stroke="none" marker-start="url(#m9)" marker-mid="url(#m9)" marker-end="url(#m9)"/>
<polyline points="71.5,43.8 73.0,43.2 74.4,42.9 75.9,43.0 77.4,42.7 78.9,42.2 80.3,41.7 81.8,42.0 83.3,41.9 84.8,42.2 86.3,41.1 87.7,41.4 89.2,41.3 90.7,41.5 92.2,41.0 93.6,41.2 95.1,40.7 101.0,40.1 102.5,40.1 104.0,39.9 105.5,40.1 107.0,39.4 108.4,39.8 109.9,40.0 111.4,39.5 112.9,39.5 114.3,39.5 115.8,39.2 117.3,38.9 118.8,39.2 120.3,38.9 121.7,38.3 123.2,38.4 124.7,38.6 126.2,38.4 127.6,38.4 129.1,38.3 130.6,38.0 132.1,38.1 133.6,38.7 135.0,37.9 136.5,38.0 138.0,37.5 139.5,37.8 140.9,37.5 142.4,36.8 143.9,37.6 145.4,37.6 146.9,37.5 148.3,37.7 149.8,37.5 151.3,36.8 152.8,37.0 154.2,37.2 155.7,37.0 157.2,36.3 158.7,36.6 160.2,36.4 161.6,36.1 163.1,35.8 164.6,35.5 166.1,35.7 167.5,35.8 169.0,35.8 170.5,35.2 172.0,35.2 173.5,35.6 177.9,35.2 179.4,35.1 180.8,35.1 182.3,35.2 183.8,35.3 185.3,35.0 186.8,35.2 188.2,34.4 189.7,34.5 191.2,34.9 192.7,34.1 194.2,34.2 195.6,34.9 197.1,33.7 198.6,33.9 200.1,33.5 201.5,34.4 203.0,33.8 204.5,33.7 206.0,33.7 207.5,33.7 208.9,33.4 210.4,34.0 211.9,33.9 213.4,33.9 214.8,33.6 216.3,33.6 217.8,33.2 219.3,33.2 220.8,33.3 222.2,33.4 223.7,33.3 225.2,32.9 226.7,33.0 228.1,33.1 229.6,33.3 231.1,32.7 232.6,33.3 234.1,33.0 235.5,32.8 237.0,33.2 238.5,32.9 240.0,33.5 241.4,32.9 242.9,33.1 244.4,33.6 245.9,33.0 247.4,33.4 248.8,32.8 250.3,33.4 251.8,33.2 253.3,33.1" fill="none" stroke="none" marker-start="url(#m10)" marker-mid="url(#m10)" marker-end="url(#m10)"/>
<polyline points="149.4,30.0 149.4,30.0" fill="none" stroke="none" marker-start="url(#m11)"/>
<polyline points="149.4,38.0 149.6,39.0" fill="none" stroke="none" marker-start="url(#m12)" marker-mid="url(#m12)" marker-end="url(#m12)"/>
<polyline points="228.8,55.5 229.5,56.0" fill="none" stroke="none" marker-start="url(#m13)" marker-mid="url(#m13)" marker-end="url(#m13)"/>
<polyline points="228.5,61.0 229.0,63.5" fill="none" stroke="none" marker-start="url(#m12)" marker-mid="url(#m12)" marker-end="url(#m12)"/>
<polyline points="272.5,67.5 272.5,67.5" fill="none" stroke="none" marker-start="url(#m13)"/>
<polyline points="272.5,80.5 280.0,80.5" fill="none" stroke="none" marker-start="url(#m12)" marker-mid="url(#m12)" marker-end="url(#m12)"/>
<polyline points="222.0,89.0 82.5,117.5" fill="none" stroke="none" marker-start="url(#m14)" marker-mid="url(#m14)" marker-end="url(#m14)"/>
<polyline points="228.0,101.0 228.0,101.0" fill="none" stroke="none" marker-start="url(#m15)"/>
<polyline points="298.8,190.0 298.8,190.0" fill="none" stroke="none" marker-start="url(#m16)"/>
<rect x="353.9" y="16.35" width="236.30000000000007" height="190.75" fill="none" stroke="#000" stroke-width="1.35"/>
<line x1="412.98" y1="207.10" x2="412.98" y2="203.60" stroke="#000" stroke-width="1.2"/>
<line x1="472.06" y1="207.10" x2="472.06" y2="203.60" stroke="#000" stroke-width="1.2"/>
<line x1="531.14" y1="207.10" x2="531.14" y2="203.60" stroke="#000" stroke-width="1.2"/>
<line x1="383.44" y1="207.10" x2="383.44" y2="205.10" stroke="#000" stroke-width="1.1"/>
<line x1="442.52" y1="207.10" x2="442.52" y2="205.10" stroke="#000" stroke-width="1.1"/>
<line x1="501.60" y1="207.10" x2="501.60" y2="205.10" stroke="#000" stroke-width="1.1"/>
<line x1="560.68" y1="207.10" x2="560.68" y2="205.10" stroke="#000" stroke-width="1.1"/>
<line x1="353.90" y1="194.50" x2="357.40" y2="194.50" stroke="#000" stroke-width="1.2"/>
<line x1="353.90" y1="143.70" x2="357.40" y2="143.70" stroke="#000" stroke-width="1.2"/>
<line x1="353.90" y1="92.90" x2="357.40" y2="92.90" stroke="#000" stroke-width="1.2"/>
<line x1="353.90" y1="42.10" x2="357.40" y2="42.10" stroke="#000" stroke-width="1.2"/>
<line x1="353.90" y1="169.10" x2="355.90" y2="169.10" stroke="#000" stroke-width="1.1"/>
<line x1="353.90" y1="118.30" x2="355.90" y2="118.30" stroke="#000" stroke-width="1.1"/>
<line x1="353.90" y1="67.50" x2="355.90" y2="67.50" stroke="#000" stroke-width="1.1"/>
<line x1="353.90" y1="16.70" x2="355.90" y2="16.70" stroke="#000" stroke-width="1.1"/>
<text x="353.9" y="221.4" font-size="10" font-weight="bold" text-anchor="middle" fill="#000" stroke="#000" stroke-width="0.18">0</text>
<text x="412.97999999999996" y="221.4" font-size="10" font-weight="bold" text-anchor="middle" fill="#000" stroke="#000" stroke-width="0.18">40</text>
<text x="472.06" y="221.4" font-size="10" font-weight="bold" text-anchor="middle" fill="#000" stroke="#000" stroke-width="0.18">80</text>
<text x="531.14" y="221.4" font-size="10" font-weight="bold" text-anchor="middle" fill="#000" stroke="#000" stroke-width="0.18">120</text>
<text x="590.22" y="221.4" font-size="10" font-weight="bold" text-anchor="middle" fill="#000" stroke="#000" stroke-width="0.18">160</text>
<text x="350.4" y="198.7" font-size="10" font-weight="bold" text-anchor="end" fill="#000" stroke="#000" stroke-width="0.18">0</text>
<text x="350.4" y="147.89999999999998" font-size="10" font-weight="bold" text-anchor="end" fill="#000" stroke="#000" stroke-width="0.18">20</text>
<text x="350.4" y="97.10000000000001" font-size="10" font-weight="bold" text-anchor="end" fill="#000" stroke="#000" stroke-width="0.18">40</text>
<text x="350.4" y="46.3" font-size="10" font-weight="bold" text-anchor="end" fill="#000" stroke="#000" stroke-width="0.18">60</text>
<text x="483.45" y="233.5" font-size="12.15" font-weight="bold" text-anchor="middle" fill="#000" stroke="#000" stroke-width="0.18">Cycle Number</text>
<text x="329.3" y="173.5" font-size="12.2" font-weight="bold" text-anchor="start" fill="#000" transform="rotate(-90 329.3 173.5)" stroke="#000" stroke-width="0.18">Average Pressure (PSI)</text>
<text x="327.05" y="181.4" font-family="'DejaVu Sans','Liberation Sans',sans-serif" font-size="8.2" font-weight="normal" fill="#111" stroke="#111" stroke-width="0.28" transform="rotate(-90 327.05 181.4)">△</text>
<text x="325.5" y="21.1" font-size="8.4" font-weight="bold" text-anchor="start" fill="#000" stroke="#000" stroke-width="0.25">B</text>
<polyline points="355.4,192.8 356.9,191.0 358.3,190.0 359.8,189.2 361.3,188.6 362.8,187.5 364.2,186.9 365.7,186.5 367.2,185.4 368.7,184.3 370.1,183.1 371.6,182.5 373.1,181.5 374.6,180.5 376.1,180.1 377.5,178.8 379.0,177.6 380.5,175.7 382.0,174.8 383.4,174.0 384.9,172.6 386.4,171.6 387.9,170.4 389.3,169.7 390.8,168.7 392.3,167.3 393.8,166.1 395.3,165.2 396.7,164.6 398.2,163.4 399.7,162.3 401.2,160.9 402.6,159.8 404.1,158.3 405.6,157.3 407.1,156.1 408.5,154.7 410.0,154.0 411.5,152.8 413.0,151.7 414.5,149.5 415.9,148.3 417.4,146.8 418.9,145.2 420.4,144.1 421.8,143.4 423.3,141.6 424.8,140.4 426.3,138.8 427.8,138.0 429.2,136.7 430.7,134.9 432.2,133.1 433.7,132.5 435.1,131.8 436.6,130.5 438.1,129.0 439.6,127.9 441.0,126.7 442.5,126.1 444.0,124.8 445.5,123.4 447.0,122.7 448.4,122.3 449.9,121.6 451.4,120.3 452.9,120.0 454.3,119.0 455.8,118.3 457.3,117.2 458.8,116.2 460.2,115.1 461.7,113.5 463.2,112.4 464.7,110.9 466.2,110.0 467.6,109.3 469.1,108.1 470.6,108.1 472.1,106.9 473.5,105.6 475.0,104.8 476.5,103.4 478.0,102.3 479.4,102.0 480.9,100.7 482.4,99.6 483.9,98.4 485.4,97.0 486.8,95.1 488.3,93.8 489.8,92.6 491.3,91.2 492.7,90.7 494.2,88.9 495.7,88.1 497.2,86.6 498.6,85.8 500.1,84.8 501.6,83.6 503.1,81.5 504.6,80.0 506.0,79.0 507.5,77.9 509.0,77.0 510.5,75.7 511.9,74.5 513.4,72.9 514.9,72.1 516.4,70.8 517.8,69.7 519.3,68.5 520.8,66.8 522.3,65.3 523.8,63.8 525.2,62.0 526.7,60.4" fill="none" stroke="none" marker-start="url(#m17)" marker-mid="url(#m17)" marker-end="url(#m17)"/>
<polyline points="355.4,194.8 356.9,197.5 358.3,198.6 359.8,199.2 361.3,198.9 362.8,199.8 364.2,199.7 365.7,199.8 367.2,200.0 368.7,199.9 370.1,199.4 371.6,198.7 373.1,198.4 374.6,197.2 376.1,196.9 377.5,198.4 379.0,196.6 380.5,196.1 382.0,195.9 383.4,195.0 384.9,194.3 386.4,193.7 387.9,193.8 389.3,193.1 390.8,193.6 392.3,191.9 393.8,192.4 395.3,191.9 396.7,191.3 398.2,190.6 399.7,190.2 401.2,189.4 402.6,191.5 404.1,190.7 405.6,190.1 407.1,189.7 408.5,188.0 410.0,188.3 411.5,187.8 413.0,188.8 414.5,187.9 415.9,188.4 417.4,188.8 418.9,186.3 420.4,185.5 421.8,185.2 423.3,184.8 424.8,185.6 426.3,185.9 427.8,185.1 429.2,186.2 430.7,185.3 432.2,186.0 433.7,185.2 435.1,185.3 436.6,183.4 438.1,182.3 439.6,182.5 441.0,183.5 442.5,183.5 444.0,182.9 445.5,183.0 447.0,182.1 448.4,180.9 449.9,180.6 451.4,180.6 452.9,179.6 454.3,179.6 455.8,178.7 457.3,178.7 458.8,177.3 460.2,177.4 461.7,178.0 463.2,177.6 464.7,177.7 466.2,177.9 467.6,177.4 469.1,176.4 470.6,177.4 472.1,176.7 473.5,176.2 475.0,175.6 476.5,174.4 478.0,174.9 479.4,173.7 480.9,173.3 482.4,172.7 483.9,172.3 485.4,172.0 486.8,171.8 488.3,170.8 489.8,168.8 491.3,167.8 492.7,167.0 494.2,166.5 495.7,166.7 497.2,165.9 498.6,164.2 500.1,165.1 501.6,164.2 503.1,163.2 504.6,162.8 506.0,162.0 507.5,160.8 509.0,159.1 510.5,158.3 511.9,157.2 513.4,157.2 514.9,156.7 516.4,156.6 517.8,156.3 519.3,156.4 520.8,155.6 522.3,154.3 523.8,154.2 525.2,153.8 526.7,153.0 528.2,152.7 529.7,151.7 531.1,151.2 532.6,151.7 534.1,151.8 535.6,150.6 537.0,149.6 538.5,148.3 540.0,147.8 541.5,147.2 543.0,147.9 544.4,146.2 545.9,146.4 547.4,145.0 548.9,145.3 550.3,145.1 551.8,144.2 553.3,143.8 554.8,143.5 556.2,142.1 557.7,140.9 559.2,140.1 560.7,139.8 562.2,139.8 563.6,139.4 565.1,139.0 566.6,138.2 568.1,136.9 569.5,136.4 571.0,136.3 572.5,135.9 574.0,134.2 575.5,133.5 576.9,132.8 578.4,132.0 579.9,131.1 581.4,130.5 582.8,129.2 584.3,128.3 585.8,130.0 587.3,129.3 588.7,126.6 590.2,127.1" fill="none" stroke="none" marker-start="url(#m18)" marker-mid="url(#m18)" marker-end="url(#m18)"/>
<polyline points="355.4,193.2 356.9,191.8 358.3,190.4 359.8,189.1 361.3,187.9 362.8,186.8 364.2,185.7 365.7,184.7 367.2,183.8 368.7,182.8 370.1,181.9 371.6,181.0 373.1,180.1 374.6,179.2 376.1,178.4 377.5,177.5 379.0,176.7 380.5,175.9 382.0,175.0 383.4,174.2 384.9,173.3 386.4,172.5 387.9,171.7 389.3,170.8 390.8,170.0 392.3,169.2 393.8,168.4 395.3,167.6 396.7,166.7 398.2,165.9 399.7,165.1 401.2,164.3 402.6,163.4 404.1,162.6 405.6,161.7 407.1,160.9 408.5,160.0 410.0,159.2 411.5,158.3 413.0,157.5 414.5,156.6 415.9,155.8 417.4,154.9 418.9,154.1 420.4,153.2 421.8,152.3 423.3,151.5 424.8,150.6 426.3,149.8 427.8,148.9 429.2,148.0 430.7,147.2 432.2,146.3 433.7,145.5 435.1,144.6 436.6,143.7 438.1,142.8 439.6,142.0 441.0,141.1 442.5,140.2 444.0,139.4 445.5,138.5 447.0,137.6 448.4,136.7 449.9,135.8 451.4,134.9 452.9,134.1 454.3,133.2 455.8,132.3 457.3,131.4 458.8,130.5 460.2,129.6 461.7,128.7 463.2,127.8 464.7,126.9 466.2,126.0 467.6,125.0 469.1,124.1 470.6,123.2 472.1,122.3 473.5,121.3 475.0,120.4 476.5,119.5 478.0,118.5 479.4,117.6 480.9,116.6 482.4,115.7 483.9,114.7 485.4,113.8 486.8,112.8 488.3,111.9 489.8,110.9 491.3,109.9 492.7,109.0 494.2,108.0 495.7,107.0 497.2,106.1 498.6,105.1 500.1,104.1 501.6,103.2 503.1,102.2 504.6,101.2 506.0,100.3 507.5,99.3 509.0,98.4 510.5,97.4 511.9,96.5" fill="none" stroke="none" marker-start="url(#m2)" marker-mid="url(#m2)" marker-end="url(#m2)"/>
<polyline points="355.4,193.5 356.9,192.4 358.3,191.4 359.8,190.4 361.3,189.4 362.8,188.5 364.2,187.5 365.7,186.6 367.2,185.7 368.7,184.8 370.1,184.0 371.6,183.2 373.1,182.4 374.6,181.7 376.1,180.9 377.5,180.2 379.0,179.5 380.5,178.7 382.0,178.0 383.4,177.2 384.9,176.5 386.4,175.7 387.9,175.0 389.3,174.2 390.8,173.5 392.3,172.7 393.8,172.0 395.3,171.2 396.7,170.5 398.2,169.7 399.7,169.0 401.2,168.2 402.6,167.4 404.1,166.6 405.6,165.8 407.1,165.0 408.5,164.1 410.0,163.2 411.5,162.3 413.0,161.5 414.5,160.6 415.9,159.8 417.4,159.0 418.9,158.1 420.4,157.3 421.8,156.5 423.3,155.6 424.8,154.8 426.3,154.0 427.8,153.1 429.2,152.3 430.7,151.5 432.2,150.7 433.7,149.8 435.1,149.0 436.6,148.2 438.1,147.4 439.6,146.6 441.0,145.7 442.5,144.9 444.0,144.1 445.5,143.3 447.0,142.5 448.4,141.7 449.9,140.8 451.4,140.0 452.9,139.2 454.3,138.4 455.8,137.6 457.3,136.7 458.8,135.9 460.2,135.1 461.7,134.2 463.2,133.4 464.7,132.6 466.2,131.8 467.6,130.9 469.1,130.1 470.6,129.3 472.1,128.4 473.5,127.6 475.0,126.8 476.5,125.9 478.0,125.1 479.4,124.3 480.9,123.5 482.4,122.6 483.9,121.8 485.4,121.0 486.8,120.1 488.3,119.3 489.8,118.5 491.3,117.6 492.7,116.8 494.2,116.0 495.7,115.1 497.2,114.3 498.6,113.5 500.1,112.6 501.6,111.8 503.1,110.9 504.6,110.0 506.0,109.2 507.5,108.3 509.0,107.5 510.5,106.6 511.9,105.7 513.4,104.8 514.9,103.9 516.4,103.1 517.8,102.2 519.3,101.3 520.8,100.4 522.3,99.4 523.8,98.5 525.2,97.6 526.7,96.7 528.2,95.7 529.7,94.8 531.1,93.8 532.6,92.9 534.1,92.0 535.6,91.0 537.0,90.0 538.5,89.1 540.0,88.1 541.5,87.2 543.0,86.2 544.4,85.3 545.9,84.3 547.4,83.4 548.9,82.4 550.3,81.4 551.8,80.5 553.3,79.5 554.8,78.6 556.2,77.7" fill="none" stroke="none" marker-start="url(#m1)" marker-mid="url(#m1)" marker-end="url(#m1)"/>
<polyline points="355.4,192.4 356.9,189.8 358.3,188.3 359.8,185.8 361.3,184.1 362.8,182.3 364.2,179.6 365.7,178.0 367.2,176.4 368.7,174.6 370.1,172.7 371.6,171.6 373.1,170.1 374.6,169.5 376.1,168.5 377.5,167.4 379.0,166.8 380.5,166.2 382.0,165.5 383.4,164.2 384.9,163.0 386.4,161.9 387.9,160.7 389.3,160.2 390.8,159.1 392.3,157.9 393.8,156.6 395.3,156.1 396.7,155.3 398.2,155.3 399.7,154.4 401.2,154.3 402.6,153.7 404.1,151.9 405.6,151.8 407.1,150.2 408.5,149.0 410.0,148.1 411.5,146.9 413.0,145.8 414.5,144.4 415.9,143.8 417.4,143.3 418.9,142.8 420.4,142.4 421.8,141.5 423.3,140.9 424.8,139.5 426.3,139.5 427.8,139.0 429.2,138.4 430.7,138.3 432.2,136.2 433.7,136.3 435.1,135.3 436.6,134.4 438.1,132.6 439.6,132.6 441.0,131.1 442.5,130.5 444.0,129.6 445.5,128.9 447.0,127.7 448.4,127.3 449.9,126.3 451.4,125.2 452.9,123.4 454.3,123.8 455.8,122.2 457.3,120.9 458.8,120.4 460.2,119.5 461.7,118.9 463.2,117.4 464.7,116.6 466.2,116.0 467.6,115.4 469.1,114.7 470.6,114.0 472.1,113.6 473.5,111.8 475.0,112.0 476.5,112.8 478.0,111.7 479.4,110.6 480.9,109.4 482.4,108.5 483.9,107.6 485.4,106.5 486.8,105.2 488.3,104.6 489.8,104.0 491.3,102.2 492.7,101.3 494.2,101.1 495.7,99.2 497.2,98.2 498.6,97.9 500.1,97.7 501.6,96.8 503.1,96.3 504.6,95.7 506.0,95.2 507.5,94.2 509.0,92.5 510.5,91.7 511.9,91.4 513.4,85.3 514.9,84.5 516.4,83.4 517.8,82.2 519.3,81.8 520.8,81.4 522.3,80.9 523.8,80.9 525.2,80.0 526.7,78.9 528.2,78.4 529.7,78.1 531.1,77.8 532.6,77.6 534.1,77.3 535.6,76.8 537.0,76.4 538.5,75.8 540.0,75.6 541.5,74.4 543.0,73.4 544.4,73.0 545.9,73.0 547.4,71.8 548.9,70.1 550.3,69.5 551.8,68.7 553.3,67.9 554.8,66.6 556.2,66.1" fill="none" stroke="none" marker-start="url(#m4)" marker-mid="url(#m4)" marker-end="url(#m4)"/>
<polyline points="353.9,204.7 355.4,198.0 356.9,191.6 358.3,187.3 359.8,183.0 361.3,178.9 362.8,175.6 364.2,172.1 365.7,170.8 367.2,168.9 368.7,167.5 370.1,166.0 371.6,164.1 373.1,162.0 374.6,159.9 376.1,158.0 377.5,155.0 379.0,153.3 380.5,153.3 382.0,151.9 383.4,151.1 384.9,150.1 386.4,147.7 387.9,146.5 389.3,146.4 390.8,144.4 392.3,143.1 393.8,142.3 395.3,141.3 396.7,139.9 398.2,138.2 399.7,136.8 401.2,135.2 402.6,132.4 404.1,131.9 405.6,131.2 407.1,130.2 408.5,128.2 410.0,127.8 411.5,125.8 413.0,125.9 414.5,125.7 415.9,124.6 417.4,124.2 418.9,123.6 420.4,122.2 421.8,120.8 423.3,119.9 424.8,119.3 426.3,117.6 427.8,116.7 429.2,116.2 430.7,114.7 432.2,114.8 433.7,113.9 435.1,112.7 436.6,112.0 438.1,111.6 439.6,110.5 441.0,110.1 442.5,109.5 444.0,109.2 445.5,107.2 447.0,106.7 448.4,104.9 449.9,103.8 451.4,103.2 452.9,101.9 454.3,101.0 455.8,100.1 457.3,100.3 458.8,99.2 460.2,97.6 461.7,96.4 463.2,94.9 464.7,93.2 466.2,92.3 467.6,90.4 469.1,91.0 470.6,90.5 472.1,91.4 473.5,89.7 475.0,88.6 476.5,86.4 478.0,85.9 479.4,86.4 480.9,84.3 482.4,84.2 483.9,83.9 485.4,82.7 486.8,81.0 488.3,80.2 489.8,78.9 491.3,79.1 492.7,76.5 494.2,75.5 495.7,74.3 497.2,72.8 498.6,71.7 500.1,70.6 501.6,70.3 503.1,69.3 504.6,67.9 506.0,66.2 507.5,65.4 509.0,64.4 510.5,63.2 511.9,61.9 513.4,60.9 514.9,60.2 516.4,59.7 517.8,57.8 519.3,56.7 520.8,55.8 522.3,52.5 523.8,51.4 525.2,50.2 526.7,49.6 528.2,49.6 529.7,47.9 531.1,47.1 532.6,46.1 534.1,44.3 535.6,42.6 537.0,41.5 538.5,40.5 540.0,38.0 541.5,36.7 543.0,36.5 544.4,34.9 545.9,33.6 547.4,32.5 548.9,30.8 550.3,29.4 551.8,26.9 553.3,25.8 554.8,24.5 556.2,22.7 557.7,22.1 559.2,20.2 560.7,19.2 562.2,17.3" fill="none" stroke="none" marker-start="url(#m4)" marker-mid="url(#m4)" marker-end="url(#m4)"/>
<polyline points="355.4,194.3 356.9,194.6 358.3,194.4 359.8,194.2 361.3,193.8 362.8,193.8 364.2,193.4 365.7,194.0 367.2,193.3 368.7,193.2 370.1,193.3 371.6,193.1 373.1,193.3 374.6,193.4 376.1,193.1 377.5,193.1 379.0,191.9 380.5,192.8 382.0,192.1 383.4,192.4 384.9,192.3 386.4,192.1 387.9,192.4 389.3,191.8 390.8,191.9 392.3,192.4 393.8,191.6 395.3,191.5 396.7,191.5 398.2,191.0 399.7,191.6 401.2,191.2 402.6,191.0 404.1,191.5 405.6,190.7 407.1,191.5 408.5,191.3 410.0,190.7 411.5,191.1 413.0,190.7 414.5,191.1 415.9,190.5 417.4,190.8 418.9,190.3 420.4,190.8 421.8,190.2 423.3,190.3 424.8,190.2 426.3,190.1 427.8,190.0 429.2,190.4 430.7,190.7 432.2,189.9 433.7,190.1 435.1,189.9 442.5,189.3 444.0,189.9 445.5,189.5 447.0,189.3 448.4,189.4 449.9,188.9 451.4,188.9 452.9,189.0 454.3,188.9 455.8,188.3 457.3,188.6 458.8,188.1 460.2,188.1 461.7,188.7 463.2,188.3 464.7,187.9 466.2,187.7 467.6,187.4 469.1,187.3 470.6,187.2 472.1,187.5 473.5,187.4 475.0,187.0 476.5,187.2 478.0,186.7 479.4,187.4 480.9,186.6 482.4,186.8 483.9,187.2 485.4,186.3 486.8,186.4 488.3,186.4 489.8,186.6 491.3,186.3 492.7,185.7 494.2,186.3 495.7,187.0 497.2,186.1 498.6,186.1 500.1,185.7 501.6,185.7 503.1,185.8 504.6,185.7 506.0,185.1 507.5,185.7 509.0,184.6 510.5,185.3 511.9,185.4 513.4,184.8 514.9,184.7 516.4,185.2 517.8,184.5 519.3,185.3 520.8,184.9 522.3,184.2 523.8,184.6 525.2,184.8 526.7,184.2 528.2,184.0 529.7,184.2 531.1,184.7 532.6,184.2 534.1,183.9 535.6,183.7 537.0,183.3" fill="none" stroke="none" marker-start="url(#m19)" marker-mid="url(#m19)" marker-end="url(#m19)"/>
<polyline points="355.4,194.6 356.9,194.5 358.3,193.8 359.8,194.2 361.3,193.6 362.8,193.9 364.2,192.8 365.7,192.1 367.2,191.1 368.7,190.9 370.1,190.3 371.6,190.0 373.1,189.8 374.6,189.2 376.1,189.2 377.5,188.8 379.0,187.9 380.5,187.4 382.0,187.1 383.4,185.8 384.9,185.5 386.4,185.4 387.9,185.0 389.3,184.8 390.8,184.6 392.3,184.3 393.8,183.0 395.3,182.8 396.7,182.4 398.2,181.8 399.7,180.8 401.2,180.8 402.6,180.8 404.1,179.6 405.6,180.0 407.1,179.9 408.5,179.4 410.0,178.2 411.5,178.5 413.0,179.2 414.5,178.5 415.9,178.3 417.4,178.1 418.9,177.5 420.4,177.1 421.8,176.6 423.3,176.5 424.8,175.7 426.3,174.9 427.8,174.7 429.2,174.7 430.7,174.2 432.2,173.8 433.7,174.0 435.1,173.9 436.6,173.2 438.1,172.9 439.6,172.8 441.0,172.4 442.5,172.1 444.0,171.7 445.5,172.1 447.0,170.9 448.4,170.5 449.9,170.5 451.4,169.8 452.9,169.3 454.3,169.0 455.8,168.3 457.3,167.2 458.8,166.8 460.2,166.1 461.7,165.2 463.2,165.7 464.7,165.7 466.2,165.2 467.6,165.6 469.1,165.4 470.6,164.5 472.1,163.7 473.5,163.2 475.0,163.7 476.5,162.3 478.0,161.8 479.4,161.3 480.9,160.8 482.4,161.2 483.9,161.3 485.4,161.2 486.8,159.8 488.3,159.7 489.8,159.2" fill="none" stroke="none" marker-start="url(#m20)" marker-mid="url(#m20)" marker-end="url(#m20)"/>
<polyline points="355.4,193.8 356.9,194.2 358.3,194.0 359.8,193.3 361.3,192.0 362.8,191.6 364.2,191.9 365.7,191.2 367.2,191.2 368.7,190.1 370.1,189.7 371.6,188.4 373.1,188.2 374.6,188.3 376.1,188.5 377.5,188.1 379.0,187.3 380.5,186.2 382.0,185.7 383.4,185.7 384.9,185.0 386.4,185.3 387.9,184.5 389.3,184.4 390.8,183.2 392.3,182.4 393.8,182.0 395.3,182.1 396.7,181.5 398.2,181.0 399.7,180.9 401.2,180.8 402.6,179.8 404.1,179.6 405.6,179.1 407.1,178.1 408.5,178.6 410.0,177.4 411.5,176.7 413.0,176.9 414.5,177.1 415.9,177.3 417.4,176.4 418.9,177.2 420.4,176.3 421.8,175.7 423.3,175.7 424.8,175.5 426.3,175.2 427.8,174.8 429.2,174.0 430.7,174.0 432.2,173.1 433.7,172.3 435.1,172.3 436.6,171.7 438.1,171.7 439.6,171.4 441.0,170.9 442.5,169.7 444.0,169.6 445.5,169.5 447.0,169.2 448.4,169.1 449.9,169.3 451.4,168.0 452.9,168.0 454.3,168.0 455.8,167.9 457.3,167.1 458.8,165.4 460.2,163.9 461.7,163.6 463.2,163.5 464.7,163.5 466.2,163.9 467.6,163.4 469.1,163.2 470.6,162.1 472.1,162.1 473.5,162.4 475.0,163.0 476.5,163.3 478.0,162.4 479.4,161.8 480.9,161.8 482.4,161.9 483.9,161.1 485.4,160.6 486.8,159.8 488.3,159.2 489.8,159.0 491.3,159.1 492.7,158.3 494.2,157.5 495.7,156.6 497.2,155.4 498.6,154.3 500.1,153.9 501.6,152.7 503.1,152.8 504.6,151.3 506.0,150.0 507.5,148.2 509.0,146.5 510.5,145.8 511.9,144.7" fill="none" stroke="none" marker-start="url(#m21)" marker-mid="url(#m21)" marker-end="url(#m21)"/>
<polyline points="513.4,139.9 514.9,140.5 516.4,140.7 517.8,141.3 519.3,141.0 520.8,140.7 522.3,140.9 523.8,141.1 525.2,141.5 526.7,140.3 528.2,139.8 529.7,139.4 531.1,139.0 532.6,138.7 534.1,137.6 535.6,136.6 537.0,137.1 538.5,136.3 540.0,135.5 541.5,134.9 543.0,134.1 544.4,132.6 545.9,131.9 547.4,130.7 548.9,129.7 550.3,129.8 551.8,128.3 553.3,127.6 554.8,127.1" fill="none" stroke="none" marker-start="url(#m22)" marker-mid="url(#m22)" marker-end="url(#m22)"/>
<polyline points="556.5,122.6 556.5,122.6" fill="none" stroke="none" marker-start="url(#m23)"/>
<polyline points="557.0,62.9 513.9,83.0" fill="none" stroke="none" marker-start="url(#m24)" marker-mid="url(#m24)" marker-end="url(#m24)"/>
<polyline points="355.4,195.0 356.9,194.8 358.3,194.6 359.8,194.4 361.3,194.2 362.8,194.0 364.2,193.8 365.7,193.6 367.2,193.4 368.7,193.2 370.1,193.0 371.6,192.8 373.1,192.6 374.6,192.4 376.1,192.1 377.5,191.9 379.0,191.7 380.5,191.4 382.0,191.2 383.4,190.9 384.9,190.7 386.4,190.4 387.9,190.1 389.3,189.8 390.8,189.5 392.3,189.2 393.8,188.9 395.3,188.6 396.7,188.2 398.2,187.9 399.7,187.6 401.2,187.4 402.6,187.1 404.1,186.8 405.6,186.5 407.1,186.2 408.5,185.9 410.0,185.7 411.5,185.4 413.0,185.1 414.5,184.8 415.9,184.6 417.4,184.3 418.9,184.0 420.4,183.7 421.8,183.5 423.3,183.2 424.8,182.9 426.3,182.7 427.8,182.4 429.2,182.1 430.7,181.9 432.2,181.6 433.7,181.3 435.1,181.1 436.6,180.8 438.1,180.5 439.6,180.3 441.0,180.0 442.5,179.8 444.0,179.5 445.5,179.3 447.0,179.0 448.4,178.8 449.9,178.5 451.4,178.3 452.9,178.0 454.3,177.8 455.8,177.5 457.3,177.3 458.8,177.1 460.2,176.8 461.7,176.6 463.2,176.4 464.7,176.1 466.2,175.9 467.6,175.6 469.1,175.4 470.6,175.2 472.1,174.9 473.5,174.7 475.0,174.4 476.5,173.2 478.0,173.3 479.4,173.4 480.9,173.5 482.4,173.7 483.9,173.8 485.4,173.9 486.8,174.0 488.3,174.1 489.8,174.2 491.3,174.3 492.7,174.4 494.2,174.4 495.7,174.5 497.2,174.5 498.6,174.6 500.1,174.6 501.6,174.6 503.1,174.6 504.6,174.6 506.0,174.6 507.5,174.6 509.0,174.7 510.5,174.7 511.9,174.7" fill="none" stroke="none" marker-start="url(#m25)" marker-mid="url(#m25)" marker-end="url(#m25)"/>
<polyline points="513.4,169.6 514.9,169.4 516.4,169.1 517.8,168.8 519.3,168.6 520.8,168.3 522.3,168.1 523.8,167.8 525.2,167.6 526.7,167.3 528.2,167.1 529.7,166.8 531.1,166.6 532.6,166.3 534.1,166.1 535.6,165.8 537.0,165.6 538.5,165.3 540.0,165.1 541.5,164.8 543.0,164.6 544.4,164.3 545.9,164.1 547.4,163.8 548.9,163.5 550.3,163.3 551.8,163.0 553.3,162.8 554.8,162.5 556.2,162.3 557.7,162.0 559.2,161.7 560.7,161.5 562.2,161.2 563.6,160.9 565.1,160.7 566.6,160.4 568.1,160.1 569.5,159.8 571.0,159.6 572.5,159.3 574.0,159.0 575.5,158.7 576.9,158.4 578.4,158.2 579.9,157.9 581.4,157.6 582.8,157.3 584.3,157.0 585.8,156.7 587.3,156.5 588.7,156.2 590.2,155.9" fill="none" stroke="none" marker-start="url(#m25)" marker-mid="url(#m25)" marker-end="url(#m25)"/>
<polyline points="353.9,193.5 355.4,193.1 356.9,192.8 358.3,192.5 359.8,192.1 361.3,191.8 362.8,191.4 364.2,191.1 365.7,190.7 367.2,190.4 368.7,190.0 370.1,189.7 371.6,189.3 373.1,189.0 374.6,188.6 376.1,188.3 377.5,188.0 379.0,187.6 380.5,187.3 382.0,187.0 383.4,186.6 384.9,186.3 386.4,186.0 387.9,185.6 389.3,185.3 390.8,185.0 392.3,184.7 393.8,184.4 395.3,184.1 396.7,183.7 398.2,183.4 399.7,183.1 401.2,182.8 402.6,182.5 404.1,182.2 405.6,181.9 407.1,181.6 408.5,181.4 410.0,181.1 411.5,180.8 413.0,180.5 414.5,180.3 415.9,180.0 417.4,179.7 418.9,179.5 420.4,179.2 421.8,178.9 423.3,178.7 424.8,178.4 426.3,178.2 427.8,177.9 429.2,177.7 430.7,177.4 432.2,177.2 433.7,176.9 435.1,176.7 436.6,176.4 438.1,176.2 439.6,175.9 441.0,175.7 442.5,175.4 444.0,175.2 445.5,175.0 447.0,174.7 448.4,174.5 449.9,174.2 451.4,174.0 452.9,173.8 454.3,173.5 455.8,173.3 457.3,173.1 458.8,172.8 460.2,172.6 461.7,172.4 463.2,172.1 464.7,171.9 466.2,171.7 467.6,171.4 469.1,171.2 470.6,171.0 472.1,170.7" fill="none" stroke="none" marker-start="url(#m8)" marker-mid="url(#m8)" marker-end="url(#m8)"/>
<polyline points="513.2,158.4 472.0,160.0 355.8,185.0" fill="none" stroke="none" marker-start="url(#m26)" marker-mid="url(#m26)" marker-end="url(#m26)"/>
<polyline points="512.2,185.6 512.2,185.6" fill="none" stroke="none" marker-start="url(#m27)"/>
<polyline points="441.8,196.0 441.8,196.0" fill="none" stroke="none" marker-start="url(#m28)"/>
<polyline points="355.0,183.0 355.5,179.0" fill="none" stroke="none" marker-start="url(#m29)" marker-mid="url(#m29)" marker-end="url(#m29)"/>
<rect x="70.05" y="244.5" width="236.45" height="191.5" fill="none" stroke="#000" stroke-width="1.35"/>
<line x1="129.17" y1="436.00" x2="129.17" y2="432.50" stroke="#000" stroke-width="1.2"/>
<line x1="188.29" y1="436.00" x2="188.29" y2="432.50" stroke="#000" stroke-width="1.2"/>
<line x1="247.41" y1="436.00" x2="247.41" y2="432.50" stroke="#000" stroke-width="1.2"/>
<line x1="99.61" y1="436.00" x2="99.61" y2="434.00" stroke="#000" stroke-width="1.1"/>
<line x1="158.73" y1="436.00" x2="158.73" y2="434.00" stroke="#000" stroke-width="1.1"/>
<line x1="217.85" y1="436.00" x2="217.85" y2="434.00" stroke="#000" stroke-width="1.1"/>
<line x1="276.97" y1="436.00" x2="276.97" y2="434.00" stroke="#000" stroke-width="1.1"/>
<line x1="70.05" y1="408.00" x2="73.55" y2="408.00" stroke="#000" stroke-width="1.2"/>
<line x1="70.05" y1="342.50" x2="73.55" y2="342.50" stroke="#000" stroke-width="1.2"/>
<line x1="70.05" y1="277.00" x2="73.55" y2="277.00" stroke="#000" stroke-width="1.2"/>
<line x1="70.05" y1="375.25" x2="72.05" y2="375.25" stroke="#000" stroke-width="1.1"/>
<line x1="70.05" y1="309.75" x2="72.05" y2="309.75" stroke="#000" stroke-width="1.1"/>
<text x="70.05" y="450.3" font-size="10" font-weight="bold" text-anchor="middle" fill="#000" stroke="#000" stroke-width="0.18">0</text>
<text x="129.17" y="450.3" font-size="10" font-weight="bold" text-anchor="middle" fill="#000" stroke="#000" stroke-width="0.18">40</text>
<text x="188.29" y="450.3" font-size="10" font-weight="bold" text-anchor="middle" fill="#000" stroke="#000" stroke-width="0.18">80</text>
<text x="247.40999999999997" y="450.3" font-size="10" font-weight="bold" text-anchor="middle" fill="#000" stroke="#000" stroke-width="0.18">120</text>
<text x="306.53" y="450.3" font-size="10" font-weight="bold" text-anchor="middle" fill="#000" stroke="#000" stroke-width="0.18">160</text>
<text x="66.55" y="412.2" font-size="10" font-weight="bold" text-anchor="end" fill="#000" stroke="#000" stroke-width="0.18">0.1</text>
<text x="66.55" y="346.7" font-size="10" font-weight="bold" text-anchor="end" fill="#000" stroke="#000" stroke-width="0.18">0.12</text>
<text x="66.55" y="281.2" font-size="10" font-weight="bold" text-anchor="end" fill="#000" stroke="#000" stroke-width="0.18">0.14</text>
<text x="199.675" y="462.4" font-size="12.15" font-weight="bold" text-anchor="middle" fill="#000" stroke="#000" stroke-width="0.18">Cycle Number</text>
<text x="38.4" y="347.9" font-size="12.2" font-weight="bold" text-anchor="start" fill="#000" transform="rotate(-90 38.4 347.9)" stroke="#000" stroke-width="0.18">V (V)</text>
<text x="39.0" y="356.6" font-family="'DejaVu Sans','Liberation Sans',sans-serif" font-size="8.2" font-weight="normal" fill="#111" stroke="#111" stroke-width="0.42" transform="rotate(-90 39.0 356.6)">△</text>
<text x="38.5" y="246.5" font-size="8.6" font-weight="bold" text-anchor="start" fill="#000" stroke="#000" stroke-width="0.25">C</text>
<polyline points="71.5,266.8 73.9,272.0 76.3,275.7 78.6,279.7 81.0,276.8 83.4,281.1 85.7,280.9 88.1,280.3 90.4,281.4 92.8,278.9 95.2,275.0 97.5,278.3 99.9,279.7 102.3,279.3 104.6,277.0 107.0,275.2 109.4,274.6 111.7,279.9 114.1,277.2 116.5,276.2 118.8,273.5 121.2,272.7 123.6,276.4 125.9,274.5 128.3,275.5 130.6,272.0 133.0,273.4 135.4,271.4 137.7,273.6 140.1,274.9 142.5,273.5 144.8,273.8 147.2,270.3 149.6,269.5 151.9,272.7 154.3,270.6 156.7,272.8 159.0,269.0 161.4,267.8 163.8,271.0 166.1,268.5 168.5,266.2 170.8,267.8 173.2,267.2 175.6,265.7 177.9,267.5 180.3,265.7 182.7,266.3 185.0,262.8 187.4,264.1 189.8,260.6 192.1,263.8 194.5,262.4 196.9,259.0 199.2,260.8 201.6,259.4 204.0,261.2 206.3,259.4 208.7,260.9 211.1,257.6 213.4,257.6 215.8,254.6 218.1,256.3 220.5,256.8 222.9,255.7 225.2,254.1 227.6,256.9 230.0,254.9 232.3,253.9 234.7,253.2 237.1,252.7 239.4,251.9 241.8,250.0 244.2,251.0" fill="none" stroke="none" marker-start="url(#m30)" marker-mid="url(#m30)" marker-end="url(#m30)"/>
<polyline points="71.5,275.0 74.8,280.1 78.0,289.3 81.3,287.0 84.5,286.1 87.8,290.5 91.0,292.8 94.3,290.6 97.5,286.6 100.8,289.5 104.0,291.6 107.3,290.5 110.5,288.3 113.8,285.1 117.1,284.0 120.3,290.8 123.6,284.0 126.8,285.9 130.1,284.5 133.3,279.5 136.6,284.8 139.8,285.1 143.1,282.7 146.3,281.3 149.6,280.3 152.8,281.7 156.1,278.3 159.3,277.7 162.6,278.9 165.8,270.9 169.1,279.3 172.3,276.1 175.6,274.7 178.8,272.0 182.1,272.3 185.3,273.4 188.6,269.4 191.8,271.0 195.1,271.4 198.3,267.7 201.6,272.0 204.8,269.9 208.1,267.6 211.3,265.9 214.6,265.5 217.9,266.3 221.1,266.6 224.4,266.9 227.6,262.2 230.9,262.7 234.1,262.8 237.4,264.4 240.6,261.1 243.9,260.1" fill="none" stroke="none" marker-start="url(#m30)" marker-mid="url(#m30)" marker-end="url(#m30)"/>
<polyline points="71.5,289.0 73.4,288.7 75.2,288.9 77.1,287.5 78.9,289.5 80.8,287.6 82.6,287.2 84.5,287.3 86.3,286.8 88.2,287.1 90.0,286.3 91.9,292.5 93.7,291.8 95.5,291.1 97.4,291.1 99.2,290.9 101.1,290.2 102.9,289.1 104.8,289.8 106.6,288.9 108.5,287.8 110.3,294.2 112.2,293.4 114.0,294.2 115.9,292.1 117.7,291.4 119.6,290.1 121.4,291.2 123.3,289.4 125.1,288.2 127.0,287.5 128.8,286.4 130.6,292.7 132.5,293.3 134.3,291.5 136.2,291.4 138.0,291.0 139.9,288.8 141.7,289.5 143.6,288.9 145.4,287.9 147.3,287.5 149.1,285.7 151.0,292.3 152.8,290.9 154.7,290.9 156.5,290.8 158.4,289.1 160.2,289.4 162.1,288.6 163.9,287.7 165.8,286.8 167.6,285.2 169.4,285.6 171.3,291.0 173.1,290.3 175.0,290.2 176.8,289.1 178.7,287.6 180.5,286.2 182.4,285.2 184.2,284.1 186.1,283.2 187.9,282.5 189.8,280.8 191.6,287.4 193.5,286.5 195.3,284.7 197.2,284.2 199.0,282.5 200.9,281.4 202.7,280.1 204.5,278.6 206.4,277.9 208.2,276.5 210.1,276.1 211.9,280.6 213.8,280.1 215.6,278.1 217.5,279.0 219.3,276.6 221.2,274.8 223.0,275.4 224.9,272.9 226.7,271.5 228.6,270.3 230.4,270.2 232.3,274.8 234.1,273.7 236.0,273.2 237.8,271.0 239.7,270.4 241.5,269.2 243.3,268.3 245.2,266.6 247.0,265.8 248.9,264.0 250.7,263.3 252.6,269.8 254.4,268.5 256.3,266.7 258.1,266.5 260.0,264.9 261.8,263.8 263.7,263.2 265.5,263.5 267.4,260.9 269.2,259.8 271.1,265.6" fill="none" stroke="none" marker-start="url(#m31)" marker-mid="url(#m31)" marker-end="url(#m31)"/>
<polyline points="71.5,304.0 73.7,300.9 76.0,303.9 78.2,305.1 80.4,305.4 82.6,303.3 84.8,310.6 87.0,310.3 89.3,304.4 91.5,305.5 93.7,305.7 95.9,304.8 98.1,305.9 100.3,314.5 102.6,308.6 104.8,308.2 107.0,309.1 109.2,313.3 111.4,306.8 113.7,306.0 115.9,313.6 118.1,311.9 120.3,310.1 122.5,311.1 124.7,308.3 127.0,309.6 129.2,312.4 131.4,312.9 133.6,315.2 135.8,313.5 138.0,304.9 140.3,309.6 142.5,306.9 144.7,311.0 146.9,309.1 149.1,310.5 151.3,311.9 153.6,309.9 155.8,312.8 158.0,308.7 160.2,310.4 162.4,315.5 164.6,310.2 166.9,308.2 169.1,306.5 171.3,310.0 173.5,313.2 175.7,314.8 177.9,312.3 180.2,308.5 182.4,304.8 184.6,310.1 186.8,304.4 189.0,310.0 191.2,310.9 193.5,304.9 195.7,313.1 197.9,307.5 200.1,306.2 202.3,301.7 204.5,306.0 206.8,304.2 209.0,307.4 211.2,304.8 213.4,303.1 215.6,303.6 217.9,307.4 220.1,307.3 222.3,306.5 224.5,306.8 226.7,299.4 228.9,302.6 231.2,304.3 233.4,303.0 235.6,302.2 237.8,300.4 240.0,295.9 242.2,298.2 244.5,297.2 246.7,296.8 248.9,298.8 251.1,298.3 253.3,295.9 255.5,289.1 257.8,293.2 260.0,294.4 262.2,292.5 264.4,293.4 266.6,292.4 268.8,291.5 271.1,290.2 273.3,289.5 275.5,287.0 277.7,291.3 279.9,289.7 282.1,292.3 284.4,290.4 286.6,290.9 288.8,286.8 291.0,286.2 293.2,292.5 295.4,289.8 297.7,285.2 299.9,287.2 302.1,291.0 304.3,288.4 306.5,290.9" fill="none" stroke="none" marker-start="url(#m32)" marker-mid="url(#m32)" marker-end="url(#m32)"/>
<polyline points="73.0,321.4 74.9,322.5 76.7,323.0 78.5,324.1 80.4,325.4 82.2,323.9 84.1,324.3 85.9,327.9 87.8,327.9 89.6,328.0 91.5,327.3 93.3,326.1 95.2,326.1 97.0,326.8 98.9,323.0 100.7,328.4 102.6,327.4 104.4,325.6 106.3,327.2 108.1,323.4 110.0,324.2 111.8,322.2 113.7,322.3 115.5,325.0 117.3,324.3 119.2,323.5 121.0,324.0 122.9,322.8 124.7,320.7 126.6,318.6 128.4,319.2 130.3,321.6 132.1,320.8 134.0,319.5 135.8,318.1 137.7,318.9 139.5,316.4 141.4,315.6 143.2,314.6 145.1,318.1 146.9,316.8 148.8,315.7 150.6,314.4 152.4,310.2 154.3,309.5 156.1,309.5 158.0,307.5 159.8,311.8 161.7,311.9 163.5,309.7 165.4,306.8 167.2,304.5 169.1,304.4 170.9,303.9 172.8,302.0 174.6,305.6 176.5,304.7 178.3,302.5 180.2,301.4 182.0,300.6 183.9,299.5 185.7,298.3 187.6,296.3 189.4,298.5 191.2,298.7 193.1,295.7 194.9,297.7 196.8,295.1 198.6,295.2 200.5,293.4 202.3,292.2 204.2,295.0 206.0,293.5 207.9,293.8 209.7,293.3 211.6,291.3 213.4,289.8 215.3,289.5 217.1,287.1 219.0,289.5 220.8,290.8 222.7,288.2 224.5,286.4 226.3,287.5 228.2,284.5 230.0,283.6 231.9,283.3 233.7,284.1 235.6,283.7 237.4,282.9 239.3,280.9 241.1,279.4 243.0,278.0 244.8,276.9 246.7,275.7 248.5,279.9 250.4,278.0 252.2,276.3 254.1,277.3 255.9,272.1 257.8,272.8 259.6,272.0 261.5,271.3 263.3,272.6 265.1,271.5 267.0,270.6 268.8,269.2 270.7,268.2 272.5,266.8 274.4,265.0 276.2,264.1 278.1,266.0" fill="none" stroke="none" marker-start="url(#m33)" marker-mid="url(#m33)" marker-end="url(#m33)"/>
<polyline points="129.2,326.4 131.5,325.0 133.9,323.6 136.3,321.8 138.6,324.8 141.0,323.9 143.4,323.1 145.7,322.4 148.1,320.9 150.5,322.4 152.8,321.5 155.2,320.7 157.5,320.1 159.9,318.8 162.3,315.8 164.6,317.3 167.0,316.1 169.4,315.8 171.7,313.2 174.1,311.1 176.5,310.3 178.8,311.1 181.2,309.8 183.6,308.6 185.9,307.3 188.3,304.1 190.7,306.5 193.0,306.0 195.4,304.6 197.7,301.6 200.1,300.4 202.5,299.6 204.8,300.3 207.2,300.4 209.6,299.6 211.9,296.4 214.3,296.1 216.7,297.8 219.0,296.7 221.4,296.1 223.8,294.8 226.1,292.6 228.5,289.9 230.9,294.1 233.2,290.8 235.6,290.3 238.0,290.0 240.3,287.6 242.7,286.0 245.0,289.4 247.4,289.1 249.8,285.9 252.1,285.8 254.5,283.4 256.9,287.6 259.2,285.0 261.6,284.4 264.0,283.8 266.3,281.6 268.7,280.1 271.1,283.1" fill="none" stroke="none" marker-start="url(#m34)" marker-mid="url(#m34)" marker-end="url(#m34)"/>
<polyline points="75.0,339.0 80.5,339.0 87.5,343.0 96.0,342.0 110.0,341.7 123.0,339.0 140.7,334.5 154.5,329.5 169.5,325.0 189.5,325.0 186.0,317.5 208.7,318.7 222.5,306.0 232.5,310.0 252.5,305.0 269.5,297.5 267.5,289.0 203.0,300.0 243.0,296.0 80.8,345.0 87.6,346.2 98.2,345.6 74.5,353.0 72.0,388.7 74.5,398.0" fill="none" stroke="none" marker-start="url(#m35)" marker-mid="url(#m35)" marker-end="url(#m35)"/>
<polyline points="75.0,335.0 113.7,336.0 128.0,333.0 180.0,330.0 204.5,328.7 225.5,323.7 250.0,321.0 269.5,317.5 291.7,310.0 75.5,341.0 72.0,331.0" fill="none" stroke="none" marker-start="url(#m36)" marker-mid="url(#m36)" marker-end="url(#m36)"/>
<polyline points="71.5,341.2 73.4,345.2 75.2,349.8 77.1,350.5 78.9,352.1 80.8,352.4 82.6,353.7 84.5,354.7 86.3,357.7 88.2,358.3 90.0,359.4 91.9,357.7 93.7,358.3 95.5,358.7 97.4,359.2 99.2,357.4 101.1,360.3 102.9,361.3 104.8,360.0 106.6,359.0 108.5,360.1 110.3,359.6 112.2,360.1 114.0,360.1 115.9,361.3 117.7,360.0 119.6,361.9 121.4,362.0 123.3,361.4 125.1,362.0 127.0,361.3 128.8,361.1 130.6,364.3 132.5,364.1 134.3,363.2 136.2,362.2 138.0,362.2 139.9,361.1 141.7,362.3 143.6,360.7 145.4,363.2 147.3,362.2 149.1,361.5 151.0,361.7 152.8,360.7 154.7,360.7 156.5,359.2 158.4,359.4 160.2,360.9 162.1,359.8 163.9,359.7 165.8,358.0 167.6,358.5 169.4,356.9 171.3,356.6 173.1,356.7 175.0,357.8 176.8,357.5 178.7,356.6 180.5,355.8 182.4,353.8 184.2,354.6 186.1,352.6 187.9,352.7 189.8,355.4 191.6,355.4 193.5,352.8 195.3,353.9 197.2,351.5 199.0,350.6 200.9,350.4 202.7,350.1 204.5,351.7" fill="none" stroke="none" marker-start="url(#m37)" marker-mid="url(#m37)" marker-end="url(#m37)"/>
<polyline points="72.3,351.2 77.6,362.6 82.9,367.1 88.2,369.1 93.6,369.0 98.9,370.9 104.2,370.8 109.5,372.3 114.8,373.4 120.2,375.7 125.5,377.1 130.8,378.8 136.1,381.7 141.4,383.8 146.8,383.8 152.1,384.6" fill="none" stroke="none" marker-start="url(#m38)" marker-mid="url(#m38)" marker-end="url(#m38)"/>
<polyline points="158.7,384.8 160.7,384.5 162.6,383.9 164.5,385.4 166.4,384.2 168.3,382.4 170.3,382.4 172.2,380.3 174.1,383.2 176.0,382.8 177.9,380.8 179.9,380.7 181.8,379.2 183.7,379.4 185.6,379.2 187.6,378.0 189.5,380.4 191.4,379.6 193.3,379.1 195.2,378.4 197.2,377.3 199.1,377.6 201.0,376.7 202.9,376.8 204.8,377.4 206.8,379.3 208.7,377.3 210.6,376.6 212.5,377.0 214.5,375.3 216.4,375.4 218.3,376.2 220.2,376.0" fill="none" stroke="none" marker-start="url(#m39)" marker-mid="url(#m39)" marker-end="url(#m39)"/>
<polyline points="71.5,373.2 73.4,376.1 75.2,378.8 77.1,379.9 78.9,381.0 80.8,380.7 82.6,381.0 84.5,381.0 86.3,383.4 88.2,381.1 90.0,381.5 91.9,380.7 93.7,379.2 95.5,378.9 97.4,381.4 99.2,379.5 101.1,378.9 102.9,379.2 104.8,376.8 106.6,376.6 108.5,375.5 110.3,376.4 112.2,375.6 114.0,375.1 115.9,372.7 117.7,372.9 119.6,372.6 121.4,371.2 123.3,373.1 125.1,373.5 127.0,372.2 128.8,371.1 130.6,368.1 132.5,368.6 134.3,367.8 136.2,367.1 138.0,367.9 139.9,367.7 141.7,365.8 143.6,365.6 145.4,364.4 147.3,364.8 149.1,363.9 151.0,366.4 152.8,365.6 154.7,365.8 156.5,364.3 158.4,363.7 160.2,362.7 162.1,360.6 163.9,362.9 165.8,361.4 167.6,360.7 169.4,359.7 171.3,358.7 173.1,358.7 175.0,356.9 176.8,359.2 178.7,358.4 180.5,356.3 182.4,354.7 184.2,355.7 186.1,353.0 187.9,352.6 189.8,355.3 191.6,353.7 193.5,352.6 195.3,351.6 197.2,351.1 199.0,350.7 200.9,348.9 202.7,347.4 204.5,349.1 206.4,348.2 208.2,346.9 210.1,347.2 211.9,345.6 213.8,344.4 215.6,343.0 217.5,345.2 219.3,343.9 221.2,343.2 223.0,341.0 224.9,342.7 226.7,340.3" fill="none" stroke="none" marker-start="url(#m40)" marker-mid="url(#m40)" marker-end="url(#m40)"/>
<polyline points="71.5,373.0 73.4,376.9 75.2,380.2 77.1,380.9 78.9,383.6 80.8,384.2 82.6,384.1 84.5,385.9 86.3,386.5 88.2,386.0 90.0,385.2 91.9,385.0 93.7,384.9 95.5,383.7 97.4,385.3 99.2,385.1 101.1,384.8 102.9,384.1 104.8,384.2 106.6,383.3 108.5,382.0 110.3,384.2 112.2,383.3 114.0,381.8 115.9,381.8 117.7,381.4 119.6,381.5 121.4,380.7 123.3,381.7 125.1,381.9 127.0,380.4 128.8,380.6 130.6,379.2 132.5,378.7 134.3,377.3 136.2,377.6 138.0,379.5 139.9,378.5 141.7,378.0 143.6,376.3 145.4,376.9 147.3,376.4 149.1,375.6 151.0,377.0 152.8,376.5 154.7,375.4 156.5,375.9 158.4,372.7 160.2,372.3 162.1,372.6 163.9,375.1 165.8,373.3 167.6,372.3 169.4,373.0 171.3,370.7 173.1,370.7 175.0,368.5 176.8,369.6 178.7,368.9 180.5,369.5 182.4,366.7 184.2,366.0 186.1,365.8 187.9,364.3 189.8,365.3 191.6,365.4 193.5,364.2 195.3,363.5 197.2,361.4 199.0,362.4 200.9,359.1 202.7,359.5 204.5,359.9 206.4,360.4 208.2,358.9 210.1,357.6 211.9,355.6 213.8,356.1 215.6,353.6 217.5,355.9 219.3,353.7 221.2,353.6 223.0,352.1 224.9,351.4 226.7,349.2 228.6,349.5 230.4,351.0 232.3,348.7 234.1,349.0 236.0,347.7 237.8,347.7 239.7,346.2 241.5,346.9 243.3,347.2 245.2,346.7 247.0,346.4 248.9,345.4 250.7,342.9 252.6,342.4 254.4,342.6 256.3,342.1 258.1,342.7 260.0,341.4 261.8,340.0 263.7,339.7 265.5,338.9 267.4,337.3 269.2,335.0 271.1,336.6" fill="none" stroke="none" marker-start="url(#m41)" marker-mid="url(#m41)" marker-end="url(#m41)"/>
<polyline points="73.0,382.7 76.8,384.0 80.7,387.5 84.5,390.4 88.4,391.7 92.2,391.8 96.1,393.3 99.9,395.3 103.7,395.6 107.6,395.7 111.4,396.7 115.3,397.5 119.1,393.0 123.0,393.3 126.8,394.3 130.6,392.5 134.5,392.2 138.3,393.9 142.2,393.2 146.0,391.5 149.9,392.3 153.7,387.8 157.5,386.0 161.4,383.3 165.2,384.7 169.1,383.0 172.9,380.7 176.8,380.6 180.6,379.8 184.4,377.2 188.3,373.5 192.1,377.2 196.0,374.9 199.8,372.5 203.7,370.8 207.5,368.4 211.3,367.8 215.2,364.8 219.0,365.4 222.9,363.0 226.7,361.7 230.6,361.1 234.4,358.8 238.2,355.5 242.1,352.2 245.9,355.7 249.8,351.4 253.6,349.9 257.5,349.1 261.3,347.4 265.1,346.2 269.0,344.6" fill="none" stroke="none" marker-start="url(#m41)" marker-mid="url(#m41)" marker-end="url(#m41)"/>
<polyline points="74.5,395.0 76.0,399.0" fill="none" stroke="none" marker-start="url(#m40)" marker-mid="url(#m40)" marker-end="url(#m40)"/>
<polyline points="110.0,355.6 110.0,355.6" fill="none" stroke="none" marker-start="url(#m42)"/>
<polyline points="105.5,426.3 107.4,426.3 109.4,421.2 111.3,420.8 113.2,427.9 115.1,424.2 117.1,424.1 119.0,427.2 120.9,422.1 122.8,428.9 124.7,425.3 126.7,426.8 128.6,426.0 130.5,426.2 132.4,428.9 134.3,426.5 136.3,427.8 138.2,428.4 140.1,422.5 142.0,422.1 143.9,427.9 145.9,428.6 147.8,428.6 149.7,428.2 151.6,424.6 153.6,428.0 155.5,430.1 157.4,427.9 159.3,427.4 161.2,426.4 163.2,424.6 165.1,426.9 167.0,429.5 168.9,426.7 170.8,425.5 172.8,426.4 174.7,430.5 176.6,431.1 178.5,427.2 180.5,428.3 182.4,427.5 184.3,431.0 186.2,431.2 188.1,430.5 190.1,428.6 192.0,425.4 193.9,426.6 195.8,429.9 197.7,431.4 199.7,431.0 201.6,425.3 203.5,427.0 205.4,432.7 207.4,429.8 209.3,427.8 211.2,429.7 213.1,427.5 215.0,430.2 217.0,430.6 218.9,427.3 220.8,425.9 222.7,425.4 224.6,425.3 226.6,428.9 228.5,428.4 230.4,426.5 232.3,424.7 234.3,424.2 236.2,426.4 238.1,423.0 240.0,425.6 241.9,423.0 243.9,420.9 245.8,419.7 247.7,424.5 249.6,423.4 251.5,420.0" fill="none" stroke="none" marker-start="url(#m43)" marker-mid="url(#m43)" marker-end="url(#m43)"/>
<polyline points="74.2,407.0 82.5,419.0 104.7,432.5 110.0,426.0 250.0,417.0 243.0,420.0 96.0,430.0 88.0,424.0" fill="none" stroke="none" marker-start="url(#m43)" marker-mid="url(#m43)" marker-end="url(#m43)"/>
<polyline points="71.5,419.1 73.0,418.5 74.5,418.7 76.0,417.2 77.4,416.4 78.9,416.4 80.4,415.2 81.9,415.5 83.4,417.4 84.8,415.1 86.3,415.5 87.8,414.9 89.3,413.5 90.7,412.3 92.2,411.9 93.7,414.0 95.2,413.4 96.7,412.2 98.1,411.1 99.6,410.9 101.1,410.7 102.6,407.9 104.0,408.8 105.5,409.7 107.0,409.3 108.5,408.6 110.0,407.6 111.4,407.1 112.9,405.9 114.4,406.4 115.9,405.9 117.3,405.0 118.8,405.7 120.3,404.5 121.8,403.6 123.3,403.3 124.7,403.0 126.2,403.4 127.7,402.8 129.2,402.5 130.6,402.1 132.1,401.5 133.6,402.3 135.1,402.0 136.6,400.7 138.0,400.2 139.5,398.7 141.0,400.8 142.5,398.6 143.9,399.4 145.4,398.8 146.9,397.3 148.4,397.1 149.9,397.3 151.3,395.6 152.8,396.3 154.3,397.8 155.8,396.6 157.3,396.6 158.7,396.6 160.2,394.5 161.7,393.9 163.2,393.2 164.6,395.0 166.1,396.1 167.6,394.3 169.1,394.2 170.6,394.1 172.0,393.5 173.5,391.8 175.0,392.0 176.5,392.1 177.9,392.6 179.4,393.6 180.9,391.3 182.4,390.6 183.9,390.9 185.3,391.3 186.8,388.9 188.3,392.4 189.8,391.1 191.2,391.8 192.7,391.0 194.2,390.8 195.7,388.6 197.2,388.1 198.6,388.7 200.1,390.8 201.6,389.6 203.1,388.9 204.5,389.7 206.0,389.0 207.5,388.0 209.0,387.0 210.5,387.0 211.9,388.4 213.4,389.0 214.9,389.4 216.4,387.2 217.9,387.6 219.3,386.7 220.8,386.5 222.3,385.5 223.8,387.9" fill="none" stroke="none" marker-start="url(#m44)" marker-mid="url(#m44)" marker-end="url(#m44)"/>
<polyline points="257.8,385.0 259.2,387.1 260.7,386.4 262.2,385.9 263.7,385.3 265.1,385.1 266.6,385.7 268.1,384.7 269.6,383.0 271.1,385.2 272.5,384.7 274.0,384.2 275.5,384.3 277.0,383.8 278.4,383.2 279.9,381.8 281.4,381.5 282.9,382.2 284.4,382.2 285.8,380.9 287.3,381.0 288.8,381.3 290.3,379.3 291.8,379.5 293.2,378.7 294.7,380.7 296.2,380.6 297.7,380.0 299.1,380.3 300.6,380.0 302.1,379.6 303.6,379.1 305.1,379.2 306.5,380.2" fill="none" stroke="none" marker-start="url(#m45)" marker-mid="url(#m45)" marker-end="url(#m45)"/>
<polyline points="71.5,419.9 73.0,418.1 74.5,417.5 76.0,418.1 77.4,416.8 78.9,416.8 80.4,415.7 81.9,417.3 83.4,416.9 84.8,415.8 86.3,416.1 87.8,414.2 89.3,414.0 90.7,413.8 92.2,412.6 93.7,413.3 95.2,413.4 96.7,412.0 98.1,411.3 99.6,409.9 101.1,411.0 102.6,409.7 104.0,408.6 105.5,409.3 107.0,409.4 108.5,408.4 110.0,409.2 111.4,408.0 112.9,405.9 114.4,406.5 115.9,404.2 117.3,407.4 118.8,406.5 120.3,406.7 121.8,404.6 123.3,404.2 124.7,402.4 126.2,403.0 127.7,402.6 129.2,404.7 130.6,403.2 132.1,401.9 133.6,401.5 135.1,400.5 136.6,400.1 138.0,400.1 139.5,399.1 141.0,400.7 142.5,401.1 143.9,398.6 145.4,398.8 146.9,399.2 148.4,397.7 149.9,397.2 151.3,396.1 152.8,397.3 154.3,399.6 155.8,396.8 157.3,395.6 158.7,396.7 160.2,396.7 161.7,394.8 163.2,394.3 164.6,395.7 166.1,396.2 167.6,395.3 169.1,394.3 170.6,393.5 172.0,392.1 173.5,392.8 175.0,392.9 176.5,395.5 177.9,392.8 179.4,393.1 180.9,392.6 182.4,392.6 183.9,391.0 185.3,392.2 186.8,390.4 188.3,391.9" fill="none" stroke="none" marker-start="url(#m46)" marker-mid="url(#m46)" marker-end="url(#m46)"/>
<polyline points="71.5,427.2 73.4,428.6 75.4,430.0 77.3,429.8 79.2,428.8 81.1,429.0 83.1,429.0 85.0,428.0 86.9,426.7 88.8,426.8 90.7,425.1 92.7,424.4 94.6,426.1 96.5,425.1 98.4,424.2 100.3,422.5 102.3,421.5 104.2,420.3 106.1,421.1 108.0,420.9 110.0,419.2 111.9,418.5 113.8,417.8 115.7,416.9 117.6,418.6 119.6,417.0 121.5,416.8 123.4,416.1 125.3,415.0 127.2,414.0 129.2,413.4" fill="none" stroke="none" marker-start="url(#m47)" marker-mid="url(#m47)" marker-end="url(#m47)"/>
<polyline points="71.5,427.5 73.0,429.4 74.5,429.7 76.0,430.4 77.4,430.5 78.9,429.3 80.4,427.9 81.9,429.7 83.4,429.2 84.8,427.4 86.3,426.6 87.8,427.0 89.3,426.3 90.7,425.4" fill="none" stroke="none" marker-start="url(#m48)" marker-mid="url(#m48)" marker-end="url(#m48)"/>
<polyline points="132.0,416.2 142.3,416.8 149.4,414.2 159.6,411.1 171.7,409.1 184.0,409.1 195.0,405.0 162.6,389.8 131.0,410.0 126.0,415.2 147.0,411.5 160.0,407.5 172.0,405.5" fill="none" stroke="none" marker-start="url(#m49)" marker-mid="url(#m49)" marker-end="url(#m49)"/>
<polyline points="299.0,392.5 302.5,375.0 305.0,381.0" fill="none" stroke="none" marker-start="url(#m50)" marker-mid="url(#m50)" marker-end="url(#m50)"/>
<polyline points="224.5,251.8 226.0,250.3 227.5,250.3 229.0,249.7 230.5,248.4 232.0,248.4 233.5,247.9 235.0,248.3 236.5,247.8 238.0,248.1 239.5,246.9 241.0,246.8 242.5,246.3 244.0,246.0" fill="none" stroke="none" marker-start="url(#m51)" marker-mid="url(#m51)" marker-end="url(#m51)"/>
<polyline points="224.0,270.0 247.3,245.2" fill="none" stroke="none" marker-start="url(#m52)" marker-mid="url(#m52)" marker-end="url(#m52)"/>
<polyline points="71.0,413.0 71.5,420.0 73.0,424.0 71.3,428.0 83.0,412.0" fill="none" stroke="none" marker-start="url(#m53)" marker-mid="url(#m53)" marker-end="url(#m53)"/>
<polyline points="227.7,392.3 227.9,406.3 228.7,417.0 228.9,421.4 279.6,412.3 272.4,420.4 151.4,428.4 149.4,412.0" fill="none" stroke="none" marker-start="url(#m54)" marker-mid="url(#m54)" marker-end="url(#m54)"/>
<polyline points="227.7,410.0 227.7,410.0" fill="none" stroke="none" marker-start="url(#m55)"/>
<rect x="352" y="244.5" width="177" height="70" fill="#fff" stroke="#000" stroke-width="1.2"/>
<polyline points="365.4,254.2 365.4,254.2" fill="none" stroke="none" marker-start="url(#m56)"/>
<text x="378.6" y="256.9" font-size="9.8" font-weight="bold" text-anchor="start" fill="#000" stroke="#000" stroke-width="0.18">Type A NMC/graphite</text>
<polyline points="365.4,267.2 365.4,267.2" fill="none" stroke="none" marker-start="url(#m57)"/>
<text x="378.6" y="269.9" font-size="9.8" font-weight="bold" text-anchor="start" fill="#000" stroke="#000" stroke-width="0.18">Type B LCO/graphite:Si-alloy</text>
<polyline points="365.4,280.2 365.4,280.2" fill="none" stroke="none" marker-start="url(#m58)"/>
<text x="378.6" y="282.9" font-size="9.8" font-weight="bold" text-anchor="start" fill="#000" stroke="#000" stroke-width="0.18">Type C NCA/graphite:SiO</text>
<polyline points="365.4,293.2 365.4,293.2" fill="none" stroke="none" marker-start="url(#m59)"/>
<text x="378.6" y="295.9" font-size="9.8" font-weight="bold" text-anchor="start" fill="#000" stroke="#000" stroke-width="0.18">Type D NCA/Si:C (low loading)</text>
<polyline points="365.4,306.2 365.4,306.2" fill="none" stroke="none" marker-start="url(#m60)"/>
<text x="378.6" y="308.9" font-size="9.8" font-weight="bold" text-anchor="start" fill="#000" stroke="#000" stroke-width="0.18">Type E NCA/Si:C (high loading)</text>
<rect x="66.0" y="608.6" width="24" height="0.6" fill="#7d42c4"/>
<line x1="75.40" y1="609.18" x2="80.60" y2="609.18" stroke="#222" stroke-width="0.6"/>
<rect x="97.5" y="551.2" width="24" height="57.4" fill="#3a7a30"/>
<line x1="109.50" y1="568.67" x2="109.50" y2="533.78" stroke="#222" stroke-width="0.7"/>
<line x1="106.90" y1="568.67" x2="112.10" y2="568.67" stroke="#222" stroke-width="0.7"/>
<line x1="106.90" y1="533.78" x2="112.10" y2="533.78" stroke="#222" stroke-width="0.7"/>
<line x1="106.90" y1="551.23" x2="112.10" y2="551.23" stroke="#222" stroke-width="0.6"/>
<rect x="129.5" y="556.1" width="24" height="52.5" fill="#e8642d"/>
<line x1="141.50" y1="561.89" x2="141.50" y2="550.26" stroke="#222" stroke-width="0.7"/>
<line x1="138.90" y1="561.89" x2="144.10" y2="561.89" stroke="#222" stroke-width="0.7"/>
<line x1="138.90" y1="550.26" x2="144.10" y2="550.26" stroke="#222" stroke-width="0.7"/>
<line x1="138.90" y1="556.07" x2="144.10" y2="556.07" stroke="#222" stroke-width="0.6"/>
<rect x="161.4" y="541.0" width="24" height="67.6" fill="#3cb4f5"/>
<line x1="173.40" y1="551.13" x2="173.40" y2="530.78" stroke="#222" stroke-width="0.7"/>
<line x1="170.80" y1="551.13" x2="176.00" y2="551.13" stroke="#222" stroke-width="0.7"/>
<line x1="170.80" y1="530.78" x2="176.00" y2="530.78" stroke="#222" stroke-width="0.7"/>
<line x1="170.80" y1="540.95" x2="176.00" y2="540.95" stroke="#222" stroke-width="0.6"/>
<rect x="193.6" y="506.8" width="24" height="101.8" fill="#ee8cbe"/>
<line x1="205.60" y1="507.23" x2="205.60" y2="506.45" stroke="#222" stroke-width="0.7"/>
<line x1="203.00" y1="507.23" x2="208.20" y2="507.23" stroke="#222" stroke-width="0.7"/>
<line x1="203.00" y1="506.45" x2="208.20" y2="506.45" stroke="#222" stroke-width="0.7"/>
<line x1="203.00" y1="506.84" x2="208.20" y2="506.84" stroke="#222" stroke-width="0.6"/>
<line x1="61.70" y1="491.80" x2="61.70" y2="609.10" stroke="#222" stroke-width="1.05"/>
<line x1="61.20" y1="608.60" x2="221.00" y2="608.60" stroke="#222" stroke-width="1.05"/>
<line x1="61.70" y1="608.60" x2="64.40" y2="608.60" stroke="#000" stroke-width="1.0"/>
<text x="58.1" y="611.2" font-size="7.5" font-weight="bold" text-anchor="end" fill="#000" stroke="#000" stroke-width="0.18">0</text>
<line x1="61.70" y1="569.83" x2="64.40" y2="569.83" stroke="#000" stroke-width="1.0"/>
<text x="58.1" y="572.4333333333334" font-size="7.5" font-weight="bold" text-anchor="end" fill="#000" stroke="#000" stroke-width="0.18">0.04</text>
<line x1="61.70" y1="531.07" x2="64.40" y2="531.07" stroke="#000" stroke-width="1.0"/>
<text x="58.1" y="533.6666666666667" font-size="7.5" font-weight="bold" text-anchor="end" fill="#000" stroke="#000" stroke-width="0.18">0.08</text>
<line x1="61.70" y1="492.30" x2="64.40" y2="492.30" stroke="#000" stroke-width="1.0"/>
<text x="58.1" y="494.90000000000003" font-size="7.5" font-weight="bold" text-anchor="end" fill="#000" stroke="#000" stroke-width="0.18">0.12</text>
<line x1="61.70" y1="589.22" x2="63.50" y2="589.22" stroke="#000" stroke-width="0.9"/>
<line x1="61.70" y1="550.45" x2="63.50" y2="550.45" stroke="#000" stroke-width="0.9"/>
<line x1="61.70" y1="511.68" x2="63.50" y2="511.68" stroke="#000" stroke-width="0.9"/>
<text x="78" y="620.0" font-size="9.3" font-weight="bold" text-anchor="middle" fill="#000" stroke="#000" stroke-width="0.18">Type A</text>
<text x="109.5" y="620.0" font-size="9.3" font-weight="bold" text-anchor="middle" fill="#000" stroke="#000" stroke-width="0.18">Type C</text>
<text x="141.5" y="620.0" font-size="9.3" font-weight="bold" text-anchor="middle" fill="#000" stroke="#000" stroke-width="0.18">Type E</text>
<text x="173.4" y="620.0" font-size="9.3" font-weight="bold" text-anchor="middle" fill="#000" stroke="#000" stroke-width="0.18">Type D</text>
<text x="205.6" y="620.0" font-size="9.3" font-weight="bold" text-anchor="middle" fill="#000" stroke="#000" stroke-width="0.18">Type B</text>
<text x="36" y="550" font-size="11.1" font-weight="bold" text-anchor="middle" fill="#000" transform="rotate(-90 36 550)" stroke="#000" stroke-width="0.18">% Capacity Loss / Cyc</text>
<text x="38.6" y="474.6" font-size="8.8" font-weight="bold" text-anchor="start" fill="#000" stroke="#000" stroke-width="0.25">D</text>
<rect x="260.4" y="600.7" width="24" height="7.9" fill="#7d42c4"/>
<line x1="272.40" y1="601.39" x2="272.40" y2="599.99" stroke="#222" stroke-width="0.7"/>
<line x1="269.80" y1="601.39" x2="275.00" y2="601.39" stroke="#222" stroke-width="0.7"/>
<line x1="269.80" y1="599.99" x2="275.00" y2="599.99" stroke="#222" stroke-width="0.7"/>
<line x1="269.80" y1="600.69" x2="275.00" y2="600.69" stroke="#222" stroke-width="0.6"/>
<rect x="292.2" y="587.7" width="24" height="20.9" fill="#3a7a30"/>
<line x1="304.20" y1="588.83" x2="304.20" y2="586.50" stroke="#222" stroke-width="0.7"/>
<line x1="301.60" y1="588.83" x2="306.80" y2="588.83" stroke="#222" stroke-width="0.7"/>
<line x1="301.60" y1="586.50" x2="306.80" y2="586.50" stroke="#222" stroke-width="0.7"/>
<line x1="301.60" y1="587.67" x2="306.80" y2="587.67" stroke="#222" stroke-width="0.6"/>
<rect x="324.2" y="563.7" width="24" height="44.9" fill="#e8642d"/>
<line x1="336.20" y1="573.71" x2="336.20" y2="553.71" stroke="#222" stroke-width="0.7"/>
<line x1="333.60" y1="573.71" x2="338.80" y2="573.71" stroke="#222" stroke-width="0.7"/>
<line x1="333.60" y1="553.71" x2="338.80" y2="553.71" stroke="#222" stroke-width="0.7"/>
<line x1="333.60" y1="563.71" x2="338.80" y2="563.71" stroke="#222" stroke-width="0.6"/>
<rect x="356.6" y="522.1" width="24" height="86.5" fill="#3cb4f5"/>
<line x1="368.60" y1="536.73" x2="368.60" y2="507.42" stroke="#222" stroke-width="0.7"/>
<line x1="366.00" y1="536.73" x2="371.20" y2="536.73" stroke="#222" stroke-width="0.7"/>
<line x1="366.00" y1="507.42" x2="371.20" y2="507.42" stroke="#222" stroke-width="0.7"/>
<line x1="366.00" y1="522.07" x2="371.20" y2="522.07" stroke="#222" stroke-width="0.6"/>
<rect x="388.8" y="504.9" width="24" height="103.7" fill="#ee8cbe"/>
<line x1="400.80" y1="505.33" x2="400.80" y2="504.40" stroke="#222" stroke-width="0.7"/>
<line x1="398.20" y1="505.33" x2="403.40" y2="505.33" stroke="#222" stroke-width="0.7"/>
<line x1="398.20" y1="504.40" x2="403.40" y2="504.40" stroke="#222" stroke-width="0.7"/>
<line x1="398.20" y1="504.86" x2="403.40" y2="504.86" stroke="#222" stroke-width="0.6"/>
<line x1="255.90" y1="491.80" x2="255.90" y2="609.10" stroke="#222" stroke-width="1.05"/>
<line x1="255.40" y1="608.60" x2="416.00" y2="608.60" stroke="#222" stroke-width="1.05"/>
<line x1="255.90" y1="608.60" x2="258.60" y2="608.60" stroke="#000" stroke-width="1.0"/>
<text x="252.9" y="611.2" font-size="7.5" font-weight="bold" text-anchor="end" fill="#000" stroke="#000" stroke-width="0.18">0</text>
<line x1="255.90" y1="585.34" x2="258.60" y2="585.34" stroke="#000" stroke-width="1.0"/>
<text x="252.9" y="587.94" font-size="7.5" font-weight="bold" text-anchor="end" fill="#000" stroke="#000" stroke-width="0.18">0.1</text>
<line x1="255.90" y1="562.08" x2="258.60" y2="562.08" stroke="#000" stroke-width="1.0"/>
<text x="252.9" y="564.6800000000001" font-size="7.5" font-weight="bold" text-anchor="end" fill="#000" stroke="#000" stroke-width="0.18">0.2</text>
<line x1="255.90" y1="538.82" x2="258.60" y2="538.82" stroke="#000" stroke-width="1.0"/>
<text x="252.9" y="541.4200000000001" font-size="7.5" font-weight="bold" text-anchor="end" fill="#000" stroke="#000" stroke-width="0.18">0.3</text>
<line x1="255.90" y1="515.56" x2="258.60" y2="515.56" stroke="#000" stroke-width="1.0"/>
<text x="252.9" y="518.16" font-size="7.5" font-weight="bold" text-anchor="end" fill="#000" stroke="#000" stroke-width="0.18">0.4</text>
<line x1="255.90" y1="492.30" x2="258.60" y2="492.30" stroke="#000" stroke-width="1.0"/>
<text x="252.9" y="494.90000000000003" font-size="7.5" font-weight="bold" text-anchor="end" fill="#000" stroke="#000" stroke-width="0.18">0.5</text>
<line x1="255.90" y1="596.97" x2="257.70" y2="596.97" stroke="#000" stroke-width="0.9"/>
<line x1="255.90" y1="573.71" x2="257.70" y2="573.71" stroke="#000" stroke-width="0.9"/>
<line x1="255.90" y1="550.45" x2="257.70" y2="550.45" stroke="#000" stroke-width="0.9"/>
<line x1="255.90" y1="527.19" x2="257.70" y2="527.19" stroke="#000" stroke-width="0.9"/>
<line x1="255.90" y1="503.93" x2="257.70" y2="503.93" stroke="#000" stroke-width="0.9"/>
<text x="272.4" y="619.7" font-size="9.3" font-weight="bold" text-anchor="middle" fill="#000" stroke="#000" stroke-width="0.18">Type A</text>
<text x="304.2" y="619.7" font-size="9.3" font-weight="bold" text-anchor="middle" fill="#000" stroke="#000" stroke-width="0.18">Type C</text>
<text x="336.2" y="619.7" font-size="9.3" font-weight="bold" text-anchor="middle" fill="#000" stroke="#000" stroke-width="0.18">Type E</text>
<text x="368.6" y="619.7" font-size="9.3" font-weight="bold" text-anchor="middle" fill="#000" stroke="#000" stroke-width="0.18">Type D</text>
<text x="400.8" y="619.7" font-size="9.3" font-weight="bold" text-anchor="middle" fill="#000" stroke="#000" stroke-width="0.18">Type B</text>
<text x="234.5" y="549.6" font-size="11.0" font-weight="bold" text-anchor="middle" fill="#000" transform="rotate(-90 234.5 549.6)" stroke="#000" stroke-width="0.18">Pressure Growth / Cyc (PSI)</text>
<text x="240.2" y="474.6" font-size="8.8" font-weight="bold" text-anchor="start" fill="#000" stroke="#000" stroke-width="0.25">E</text>
<rect x="501.5" y="573.6" width="24" height="34.8" fill="#3a7a30"/>
<line x1="513.50" y1="574.27" x2="513.50" y2="572.87" stroke="#222" stroke-width="0.7"/>
<line x1="510.90" y1="574.27" x2="516.10" y2="574.27" stroke="#222" stroke-width="0.7"/>
<line x1="510.90" y1="572.87" x2="516.10" y2="572.87" stroke="#222" stroke-width="0.7"/>
<line x1="510.90" y1="573.57" x2="516.10" y2="573.57" stroke="#222" stroke-width="0.6"/>
<rect x="533.5" y="562.5" width="24" height="45.9" fill="#e8642d"/>
<line x1="545.50" y1="566.89" x2="545.50" y2="558.19" stroke="#222" stroke-width="0.7"/>
<line x1="542.90" y1="566.89" x2="548.10" y2="566.89" stroke="#222" stroke-width="0.7"/>
<line x1="542.90" y1="558.19" x2="548.10" y2="558.19" stroke="#222" stroke-width="0.7"/>
<line x1="542.90" y1="562.54" x2="548.10" y2="562.54" stroke="#222" stroke-width="0.6"/>
<rect x="565.8" y="510.3" width="24" height="98.1" fill="#3cb4f5"/>
<line x1="577.80" y1="514.36" x2="577.80" y2="506.23" stroke="#222" stroke-width="0.7"/>
<line x1="575.20" y1="514.36" x2="580.40" y2="514.36" stroke="#222" stroke-width="0.7"/>
<line x1="575.20" y1="506.23" x2="580.40" y2="506.23" stroke="#222" stroke-width="0.7"/>
<line x1="575.20" y1="510.30" x2="580.40" y2="510.30" stroke="#222" stroke-width="0.6"/>
<rect x="597.8" y="516.4" width="24" height="92.0" fill="#ee8cbe"/>
<line x1="609.80" y1="516.86" x2="609.80" y2="515.93" stroke="#222" stroke-width="0.7"/>
<line x1="607.20" y1="516.86" x2="612.40" y2="516.86" stroke="#222" stroke-width="0.7"/>
<line x1="607.20" y1="515.93" x2="612.40" y2="515.93" stroke="#222" stroke-width="0.7"/>
<line x1="607.20" y1="516.39" x2="612.40" y2="516.39" stroke="#222" stroke-width="0.6"/>
<line x1="465.30" y1="491.80" x2="465.30" y2="608.90" stroke="#222" stroke-width="1.05"/>
<line x1="464.80" y1="608.40" x2="626.00" y2="608.40" stroke="#222" stroke-width="1.05"/>
<line x1="465.30" y1="608.40" x2="468.00" y2="608.40" stroke="#000" stroke-width="1.0"/>
<text x="461.90000000000003" y="611.0" font-size="7.1" font-weight="bold" text-anchor="end" fill="#000" stroke="#000" stroke-width="0.18">0.0x10<tspan font-size="4.0" dy="-3.3">0</tspan></text>
<line x1="465.30" y1="585.18" x2="468.00" y2="585.18" stroke="#000" stroke-width="1.0"/>
<text x="461.90000000000003" y="587.78" font-size="7.1" font-weight="bold" text-anchor="end" fill="#000" stroke="#000" stroke-width="0.18">4.0x10<tspan font-size="4.0" dy="-3.3">-5</tspan></text>
<line x1="465.30" y1="561.96" x2="468.00" y2="561.96" stroke="#000" stroke-width="1.0"/>
<text x="461.90000000000003" y="564.5600000000001" font-size="7.1" font-weight="bold" text-anchor="end" fill="#000" stroke="#000" stroke-width="0.18">8.0x10<tspan font-size="4.0" dy="-3.3">-5</tspan></text>
<line x1="465.30" y1="538.74" x2="468.00" y2="538.74" stroke="#000" stroke-width="1.0"/>
<text x="461.90000000000003" y="541.34" font-size="7.1" font-weight="bold" text-anchor="end" fill="#000" stroke="#000" stroke-width="0.18">1.2x10<tspan font-size="4.0" dy="-3.3">-4</tspan></text>
<line x1="465.30" y1="515.52" x2="468.00" y2="515.52" stroke="#000" stroke-width="1.0"/>
<text x="461.90000000000003" y="518.12" font-size="7.1" font-weight="bold" text-anchor="end" fill="#000" stroke="#000" stroke-width="0.18">1.6x10<tspan font-size="4.0" dy="-3.3">-4</tspan></text>
<line x1="465.30" y1="492.30" x2="468.00" y2="492.30" stroke="#000" stroke-width="1.0"/>
<text x="461.90000000000003" y="494.90000000000003" font-size="7.1" font-weight="bold" text-anchor="end" fill="#000" stroke="#000" stroke-width="0.18">2.0x10<tspan font-size="4.0" dy="-3.3">-4</tspan></text>
<line x1="465.30" y1="596.79" x2="467.10" y2="596.79" stroke="#000" stroke-width="0.9"/>
<line x1="465.30" y1="573.57" x2="467.10" y2="573.57" stroke="#000" stroke-width="0.9"/>
<line x1="465.30" y1="550.35" x2="467.10" y2="550.35" stroke="#000" stroke-width="0.9"/>
<line x1="465.30" y1="527.13" x2="467.10" y2="527.13" stroke="#000" stroke-width="0.9"/>
<line x1="465.30" y1="503.91" x2="467.10" y2="503.91" stroke="#000" stroke-width="0.9"/>
<text x="481.6" y="618.6999999999999" font-size="9.3" font-weight="bold" text-anchor="middle" fill="#000" stroke="#000" stroke-width="0.18">Type A</text>
<text x="513.5" y="618.6999999999999" font-size="9.3" font-weight="bold" text-anchor="middle" fill="#000" stroke="#000" stroke-width="0.18">Type C</text>
<text x="545.5" y="618.6999999999999" font-size="9.3" font-weight="bold" text-anchor="middle" fill="#000" stroke="#000" stroke-width="0.18">Type E</text>
<text x="577.8" y="618.6999999999999" font-size="9.3" font-weight="bold" text-anchor="middle" fill="#000" stroke="#000" stroke-width="0.18">Type D</text>
<text x="609.8" y="618.6999999999999" font-size="9.3" font-weight="bold" text-anchor="middle" fill="#000" stroke="#000" stroke-width="0.18">Type B</text>
<text x="429.0" y="592.7" font-size="11.0" font-weight="bold" text-anchor="start" fill="#000" transform="rotate(-90 429.0 592.7)" stroke="#000" stroke-width="0.18">V Growth / Cyc (V)</text>
<text x="428.1" y="600.9000000000001" font-family="'DejaVu Sans','Liberation Sans',sans-serif" font-size="7.6" font-weight="normal" fill="#111" stroke="#111" stroke-width="0.25" transform="rotate(-90 428.1 600.9000000000001)">△</text>
<text x="444.3" y="474.6" font-size="8.8" font-weight="bold" text-anchor="start" fill="#000" stroke="#000" stroke-width="0.25">F</text>
<text x="467.6" y="613.4" font-size="16.4" font-weight="normal" fill="#111" stroke="#111" stroke-width="0.9" stroke-linejoin="round" opacity="0.85" textLength="156" lengthAdjust="spacingAndGlyphs" transform="translate(1.0,1.0)">头条 @新能源Leader</text>
<text x="467.6" y="613.4" font-size="16.4" font-weight="normal" fill="#fff" textLength="156" lengthAdjust="spacingAndGlyphs">头条 @新能源Leader</text></g></svg></body></html>
